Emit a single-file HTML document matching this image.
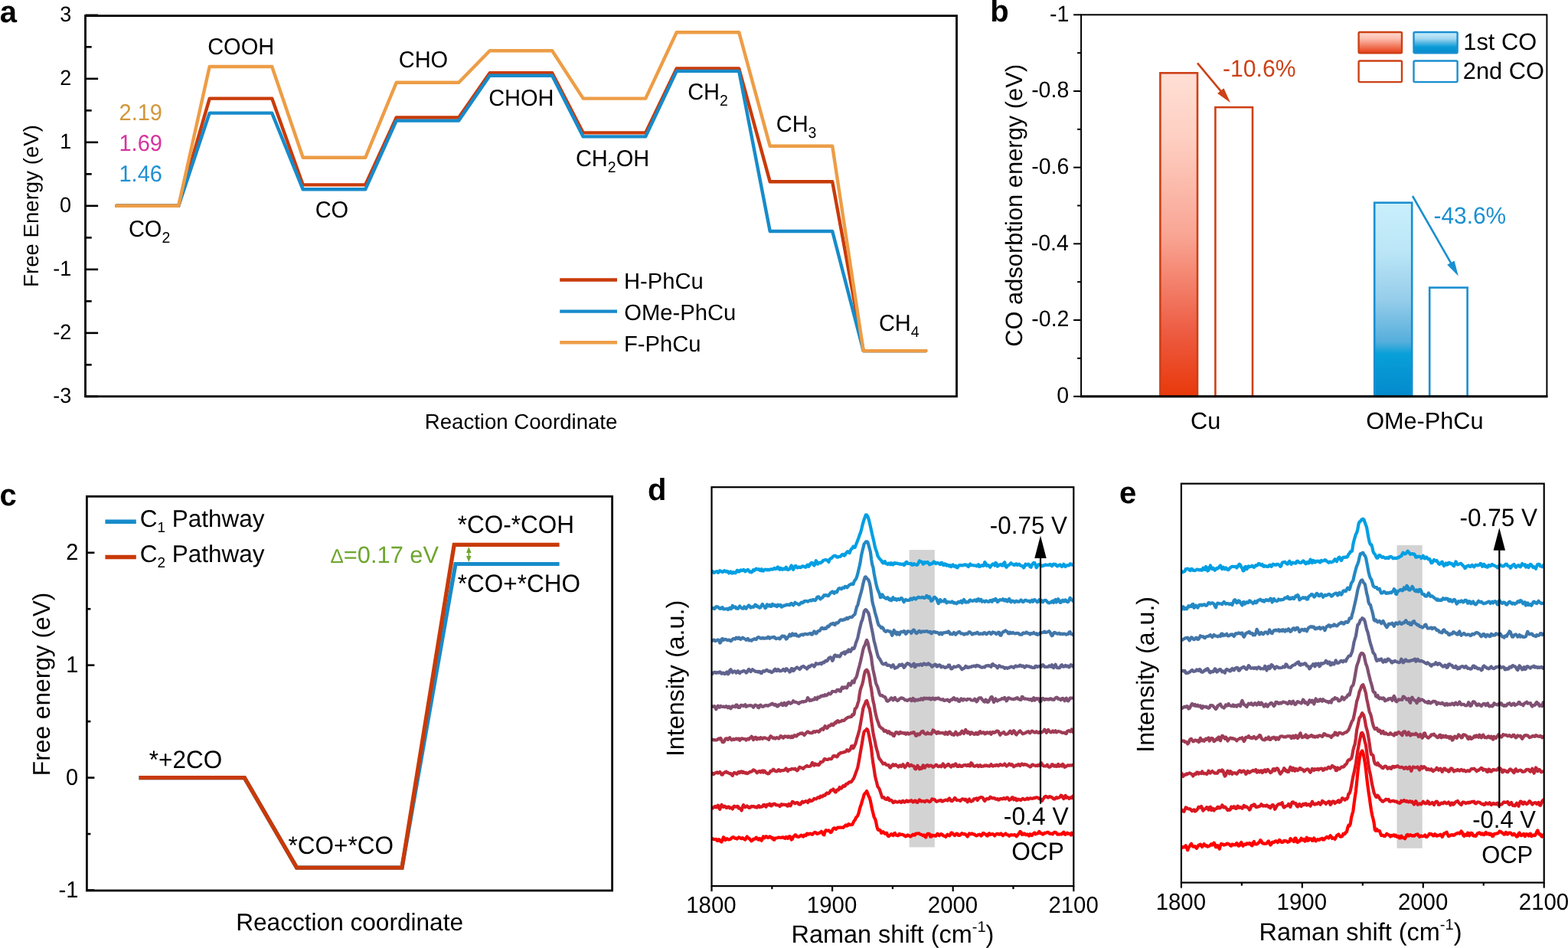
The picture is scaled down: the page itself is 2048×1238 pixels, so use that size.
<!DOCTYPE html>
<html lang="en">
<head>
<meta charset="utf-8">
<title>Figure: free energy diagrams, CO adsorption energy and Raman spectra</title>
<style>
html,body{margin:0;padding:0;background:#fff;}
body{width:2048px;height:1238px;overflow:hidden;}
svg{display:block;font-family:'Liberation Sans', sans-serif;font-kerning:none;}
svg text{white-space:pre;font-kerning:none;}
</style>
</head>
<body>
<svg width="2048" height="1238" viewBox="0 0 2048 1238" font-family="'Liberation Sans', sans-serif" text-rendering="geometricPrecision" role="img" aria-label="Five-panel scientific figure: free energy diagrams, CO adsorption energies and in-situ Raman spectra">
<rect width="2048" height="1238" fill="#fff"/>
<g id="panel-a">
<line x1="111.5" y1="517.87" x2="128.1" y2="517.87" stroke="#000" stroke-width="2.6"/>
<line x1="111.5" y1="476.37" x2="119.7" y2="476.37" stroke="#000" stroke-width="2.6"/>
<line x1="111.5" y1="434.86" x2="128.1" y2="434.86" stroke="#000" stroke-width="2.6"/>
<line x1="111.5" y1="393.36" x2="119.7" y2="393.36" stroke="#000" stroke-width="2.6"/>
<line x1="111.5" y1="351.85" x2="128.1" y2="351.85" stroke="#000" stroke-width="2.6"/>
<line x1="111.5" y1="310.34" x2="119.7" y2="310.34" stroke="#000" stroke-width="2.6"/>
<line x1="111.5" y1="268.84" x2="128.1" y2="268.84" stroke="#000" stroke-width="2.6"/>
<line x1="111.5" y1="227.33" x2="119.7" y2="227.33" stroke="#000" stroke-width="2.6"/>
<line x1="111.5" y1="185.83" x2="128.1" y2="185.83" stroke="#000" stroke-width="2.6"/>
<line x1="111.5" y1="144.32" x2="119.7" y2="144.32" stroke="#000" stroke-width="2.6"/>
<line x1="111.5" y1="102.82" x2="128.1" y2="102.82" stroke="#000" stroke-width="2.6"/>
<line x1="111.5" y1="61.31" x2="119.7" y2="61.31" stroke="#000" stroke-width="2.6"/>
<line x1="111.5" y1="19.81" x2="128.1" y2="19.81" stroke="#000" stroke-width="2.6"/>
<text transform="translate(69.18 525.87) scale(1 1.035)" font-size="27">-3</text>
<text transform="translate(69.35 442.86) scale(1 1.035)" font-size="27">-2</text>
<text transform="translate(69.31 359.85) scale(1 1.035)" font-size="27">-1</text>
<text transform="translate(78.04 276.84) scale(1 1.035)" font-size="27">0</text>
<text transform="translate(78.3 193.83) scale(1 1.035)" font-size="27">1</text>
<text transform="translate(78.34 110.82) scale(1 1.035)" font-size="27">2</text>
<text transform="translate(78.17 27.81) scale(1 1.035)" font-size="27">3</text>
<polyline points="152.2,268.8 233.2,268.8 273.7,128.6 355.2,128.6 395.7,241.4 477.2,241.4 517.7,153.5 599.2,153.5 639.7,95.3 721.2,95.3 761.7,173.4 843.2,173.4 883.7,89.5 965.2,89.5 1005.7,237.3 1087.2,237.3 1127.7,458.1 1209.2,458.1" fill="none" stroke="#c83b0a" stroke-width="4.4" stroke-linejoin="round" stroke-linecap="round"/>
<polyline points="152.2,268.8 233.2,268.8 273.7,147.6 355.2,147.6 395.7,247.3 477.2,247.3 517.7,157.6 599.2,157.6 639.7,98.7 721.2,98.7 761.7,178.4 843.2,178.4 883.7,92.9 965.2,92.9 1005.7,302.0 1087.2,302.0 1127.7,458.1 1209.2,458.1" fill="none" stroke="#178bca" stroke-width="4.4" stroke-linejoin="round" stroke-linecap="round"/>
<polyline points="152.2,268.8 233.2,268.8 273.7,87.0 355.2,87.0 395.7,205.8 477.2,205.8 517.7,107.8 599.2,107.8 639.7,66.3 721.2,66.3 761.7,128.6 843.2,128.6 883.7,42.2 965.2,42.2 1005.7,190.8 1087.2,190.8 1127.7,458.1 1209.2,458.1" fill="none" stroke="#ed9d46" stroke-width="4.4" stroke-linejoin="round" stroke-linecap="round"/>
<rect x="111.5" y="20.6" width="1138" height="497.1" fill="none" stroke="#000" stroke-width="2.8"/>
<text transform="translate(271.13 71.3) scale(1 1.035)" font-size="29">COOH</text>
<text transform="translate(520.73 87.9) scale(1 1.035)" font-size="29">CHO</text>
<text transform="translate(638.13 138.4) scale(1 1.035)" font-size="29">CHOH</text>
<text transform="translate(898.13 130) scale(1 1.035)" font-size="29"><tspan dy="-0" font-size="29">CH</tspan><tspan dy="7.57" font-size="19.43">2</tspan></text>
<text transform="translate(1013.73 171.9) scale(1 1.035)" font-size="29"><tspan dy="-0" font-size="29">CH</tspan><tspan dy="7.57" font-size="19.43">3</tspan></text>
<text transform="translate(1147.93 431.7) scale(1 1.035)" font-size="29"><tspan dy="-0" font-size="29">CH</tspan><tspan dy="7.57" font-size="19.43">4</tspan></text>
<text transform="translate(751.93 216.8) scale(1 1.035)" font-size="29"><tspan dy="-0" font-size="29">CH</tspan><tspan dy="7.57" font-size="19.43">2</tspan><tspan dy="-7.57" font-size="29">OH</tspan></text>
<text transform="translate(411.63 284) scale(1 1.035)" font-size="29">CO</text>
<text transform="translate(167.93 309) scale(1 1.035)" font-size="29"><tspan dy="-0" font-size="29">CO</tspan><tspan dy="7.57" font-size="19.43">2</tspan></text>
<text transform="translate(155.54 156.5) scale(1 1.035)" font-size="29" fill="#d2973c">2.19</text>
<text transform="translate(155.49 196.6) scale(1 1.035)" font-size="29" fill="#d6339e">1.69</text>
<text transform="translate(155.49 237) scale(1 1.035)" font-size="29" fill="#1e90d2">1.46</text>
<line x1="731.2" y1="365.5" x2="806" y2="365.5" stroke="#c83b0a" stroke-width="4.4"/>
<text transform="translate(815 376.6)" font-size="29.2">H-PhCu</text>
<line x1="731.2" y1="406.6" x2="806" y2="406.6" stroke="#178bca" stroke-width="4.4"/>
<text transform="translate(815.22 418.1)" font-size="29.2">OMe-PhCu</text>
<line x1="731.2" y1="447.2" x2="806" y2="447.2" stroke="#ed9d46" stroke-width="4.4"/>
<text transform="translate(815 458.7)" font-size="29.2">F-PhCu</text>
<text transform="translate(554.77 559.9)" font-size="27.6">Reaction Coordinate</text>
<text transform="translate(50 374.9) rotate(-90)" font-size="27.61">Free Energy (eV)</text>
<text transform="translate(-0.37 29)" font-size="40" font-weight="bold">a</text>
</g>
<g id="panel-b">
<defs>
<linearGradient id="gr" x1="0" y1="0" x2="0" y2="1"><stop offset="0" stop-color="#ffdfd5"/><stop offset="0.2" stop-color="#fecfc2"/><stop offset="0.5" stop-color="#f9a594"/><stop offset="0.8" stop-color="#ed5c42"/><stop offset="1" stop-color="#e8380a"/></linearGradient>
<linearGradient id="gb" x1="0" y1="0" x2="0" y2="1"><stop offset="0" stop-color="#c9effc"/><stop offset="0.25" stop-color="#bbe6f7"/><stop offset="0.5" stop-color="#96cdea"/><stop offset="0.72" stop-color="#55aedc"/><stop offset="0.78" stop-color="#08a0d8"/><stop offset="1" stop-color="#0489cc"/></linearGradient>
<linearGradient id="grl" x1="0" y1="0" x2="0" y2="1"><stop offset="0" stop-color="#ffdcd0"/><stop offset="0.3" stop-color="#fdbfb0"/><stop offset="1" stop-color="#e63c14"/></linearGradient>
<linearGradient id="gbl" x1="0" y1="0" x2="0" y2="1"><stop offset="0" stop-color="#c9effc"/><stop offset="0.3" stop-color="#a5d8f0"/><stop offset="0.7" stop-color="#0c9bd6"/><stop offset="1" stop-color="#0489cc"/></linearGradient>
</defs>
<rect x="1515.4" y="95.3" width="48.6" height="422.4" fill="url(#gr)" stroke="#cc4117" stroke-width="2.6"/>
<rect x="1587.4" y="140.1" width="48.6" height="377.6" fill="#fff" stroke="#cc4117" stroke-width="2.6"/>
<rect x="1795.2" y="264.7" width="49.0" height="253.0" fill="url(#gb)" stroke="#1a8fd0" stroke-width="2.6"/>
<rect x="1867.2" y="375.6" width="49.4" height="142.1" fill="#fff" stroke="#1a8fd0" stroke-width="2.6"/>
<rect x="1412.1" y="19.3" width="608.3" height="498.4" fill="none" stroke="#000" stroke-width="2"/>
<line x1="1411.1" y1="517.7" x2="2021.4" y2="517.7" stroke="#000" stroke-width="3"/>
<line x1="1402.1" y1="517.7" x2="1412.1" y2="517.7" stroke="#000" stroke-width="2"/>
<line x1="1407.1" y1="467.86" x2="1412.1" y2="467.86" stroke="#000" stroke-width="2"/>
<line x1="1402.1" y1="418.02" x2="1412.1" y2="418.02" stroke="#000" stroke-width="2"/>
<line x1="1407.1" y1="368.18" x2="1412.1" y2="368.18" stroke="#000" stroke-width="2"/>
<line x1="1402.1" y1="318.34" x2="1412.1" y2="318.34" stroke="#000" stroke-width="2"/>
<line x1="1407.1" y1="268.5" x2="1412.1" y2="268.5" stroke="#000" stroke-width="2"/>
<line x1="1402.1" y1="218.66" x2="1412.1" y2="218.66" stroke="#000" stroke-width="2"/>
<line x1="1407.1" y1="168.82" x2="1412.1" y2="168.82" stroke="#000" stroke-width="2"/>
<line x1="1402.1" y1="118.98" x2="1412.1" y2="118.98" stroke="#000" stroke-width="2"/>
<line x1="1407.1" y1="69.14" x2="1412.1" y2="69.14" stroke="#000" stroke-width="2"/>
<line x1="1402.1" y1="19.3" x2="1412.1" y2="19.3" stroke="#000" stroke-width="2"/>
<text transform="translate(1380.26 525.9) scale(1 1.035)" font-size="28.5">0</text>
<text transform="translate(1347.32 426.22) scale(1 1.035)" font-size="28.5">-0.2</text>
<text transform="translate(1346.73 326.54) scale(1 1.035)" font-size="28.5">-0.4</text>
<text transform="translate(1347.14 226.86) scale(1 1.035)" font-size="28.5">-0.6</text>
<text transform="translate(1347.13 127.18) scale(1 1.035)" font-size="28.5">-0.8</text>
<text transform="translate(1371.05 27.5) scale(1 1.035)" font-size="28.5">-1</text>
<line x1="1564" y1="82.3" x2="1595.49" y2="120.16" stroke="#cc4117" stroke-width="2.6"/>
<polygon points="1607.0,134.0 1590.1,122.1 1598.4,115.2" fill="#cc4117"/>
<line x1="1845" y1="256" x2="1895.86" y2="344.88" stroke="#1a8fd0" stroke-width="2.6"/>
<polygon points="1904.8,360.5 1890.2,345.8 1899.6,340.5" fill="#1a8fd0"/>
<text transform="translate(1597 100) scale(1 1.035)" font-size="30.15" fill="#cc4117">-10.6%</text>
<text transform="translate(1872.52 292) scale(1 1.035)" font-size="29.89" fill="#1a8fd0">-43.6%</text>
<rect x="1774.6" y="42.0" width="56.4" height="27.3" rx="1.5" fill="url(#grl)" stroke="#cc4117" stroke-width="2.4"/>
<rect x="1846.5" y="42.0" width="57.1" height="27.3" rx="1.5" fill="url(#gbl)" stroke="#1a8fd0" stroke-width="2.4"/>
<rect x="1774.6" y="79.5" width="56.4" height="27.6" rx="1.5" fill="#fff" stroke="#cc4117" stroke-width="2.4"/>
<rect x="1846.5" y="79.5" width="57.1" height="27.6" rx="1.5" fill="#fff" stroke="#1a8fd0" stroke-width="2.4"/>
<text transform="translate(1911.25 65.4)" font-size="30.8">1st CO</text>
<text transform="translate(1910.85 102.6)" font-size="30.8">2nd CO</text>
<text transform="translate(1554.99 560.2)" font-size="30.66">Cu</text>
<text transform="translate(1784.19 560.2)" font-size="30.65">OMe-PhCu</text>
<text transform="translate(1334.6 452.8) rotate(-90)" font-size="30.89">CO adsorbtion energy (eV)</text>
<text transform="translate(1293.16 28.3)" font-size="40" font-weight="bold">b</text>
</g>
<g id="panel-c">
<line x1="113.4" y1="1162.51" x2="123.4" y2="1162.51" stroke="#000" stroke-width="2.6"/>
<line x1="113.4" y1="1089.06" x2="118.4" y2="1089.06" stroke="#000" stroke-width="2.6"/>
<line x1="113.4" y1="1015.6" x2="123.4" y2="1015.6" stroke="#000" stroke-width="2.6"/>
<line x1="113.4" y1="942.14" x2="118.4" y2="942.14" stroke="#000" stroke-width="2.6"/>
<line x1="113.4" y1="868.69" x2="123.4" y2="868.69" stroke="#000" stroke-width="2.6"/>
<line x1="113.4" y1="795.24" x2="118.4" y2="795.24" stroke="#000" stroke-width="2.6"/>
<line x1="113.4" y1="721.78" x2="123.4" y2="721.78" stroke="#000" stroke-width="2.6"/>
<text transform="translate(76.53 1171.51) scale(1 1.035)" font-size="29">-1</text>
<text transform="translate(85.9 1024.6) scale(1 1.035)" font-size="29">0</text>
<text transform="translate(86.19 877.69) scale(1 1.035)" font-size="29">1</text>
<text transform="translate(86.23 730.78) scale(1 1.035)" font-size="29">2</text>
<polyline points="181.5,1015.6 319.3,1015.6 387.6,1133.1 525.0,1133.1 595.0,736.5 730.6,736.5" fill="none" stroke="#178bca" stroke-width="5.2" stroke-linejoin="miter" stroke-linecap="butt"/>
<polyline points="181.5,1015.6 319.3,1015.6 387.6,1133.1 525.0,1133.1 593.2,711.3 730.6,711.3" fill="none" stroke="#c83a08" stroke-width="5.3" stroke-linejoin="miter" stroke-linecap="butt"/>
<rect x="113.4" y="648.3" width="686.2" height="514.7" fill="none" stroke="#000" stroke-width="2.8"/>
<line x1="137.4" y1="681.3" x2="177.8" y2="681.3" stroke="#178bca" stroke-width="5.4"/>
<line x1="137.4" y1="727.5" x2="177.8" y2="727.5" stroke="#c83a08" stroke-width="5.4"/>
<text transform="translate(182.7 688.1)" font-size="31.5"><tspan dy="-0" font-size="31.5">C</tspan><tspan dy="7.09" font-size="18.9">1</tspan><tspan dy="-7.09" font-size="31.5"> Pathway</tspan></text>
<text transform="translate(182.7 734.2)" font-size="31.5"><tspan dy="-0" font-size="31.5">C</tspan><tspan dy="7.09" font-size="18.9">2</tspan><tspan dy="-7.09" font-size="31.5"> Pathway</tspan></text>
<text transform="translate(597.79 696.1) scale(1 1.035)" font-size="31.5">*CO-*COH</text>
<text transform="translate(597.79 773.2) scale(1 1.035)" font-size="31.5">*CO+*CHO</text>
<text transform="translate(194.79 1003.2) scale(1 1.035)" font-size="31.5">*+2CO</text>
<text transform="translate(376.49 1114.6) scale(1 1.035)" font-size="31.5">*CO+*CO</text>
<text transform="translate(431.58 735.2)" font-size="30.79" fill="#6ea62e"><tspan dy="0" font-size="25.86">Δ</tspan><tspan dy="-0" font-size="30.79">=0.17 eV</tspan></text>
<line x1="612.3" y1="717.9" x2="612.3" y2="730.07" stroke="#6ea62e" stroke-width="1.6"/>
<polygon points="612.3,713.9 609.0,721.9 615.5999999999999,721.9" fill="#6ea62e"/>
<polygon points="612.3,734.1 609.0,726.1 615.5999999999999,726.1" fill="#6ea62e"/>
<text transform="translate(308.21 1214.7)" font-size="31.6">Reacction coordinate</text>
<text transform="translate(64.8 1013.13) rotate(-90)" font-size="31.69">Free energy (eV)</text>
<text transform="translate(-0.56 659.5)" font-size="40" font-weight="bold">c</text>
</g>
<g id="panel-d">
<rect x="1187.6" y="718.1" width="33.2" height="388.3" fill="#d3d3d3"/>
<clipPath id="clip-panel-d"><rect x="929.5" y="636.2" width="472.8" height="520.9"/></clipPath>
<g clip-path="url(#clip-panel-d)">
<polyline points="929.5,744.7 930.7,746.4 931.9,747.8 933.1,747.8 934.2,746.9 935.4,746.4 936.6,746.2 937.8,747.9 939.0,747.0 940.2,745.3 941.3,746.1 942.5,746.1 943.7,747.1 944.9,746.4 946.1,745.2 947.3,745.8 948.5,746.7 949.6,745.8 950.8,746.4 952.0,748.5 953.2,747.2 954.4,746.4 955.6,748.5 956.8,748.6 957.9,747.2 959.1,747.5 960.3,748.4 961.5,747.2 962.7,744.9 963.9,745.1 965.0,746.6 966.2,746.0 967.4,744.5 968.6,745.1 969.8,745.2 971.0,743.9 972.2,744.6 973.3,746.3 974.5,745.7 975.7,744.6 976.9,743.9 978.1,745.3 979.3,746.9 980.5,746.4 981.6,747.4 982.8,746.4 984.0,744.2 985.2,745.0 986.4,744.1 987.6,742.6 988.7,743.3 989.9,743.6 991.1,743.2 992.3,744.8 993.5,745.1 994.7,743.2 995.9,745.4 997.0,745.6 998.2,744.1 999.4,743.6 1000.6,743.8 1001.8,744.5 1003.0,743.7 1004.2,744.4 1005.3,744.1 1006.5,743.3 1007.7,743.4 1008.9,743.7 1010.1,743.1 1011.3,741.9 1012.4,743.1 1013.6,743.0 1014.8,741.5 1016.0,740.4 1017.2,743.0 1018.4,743.8 1019.6,741.7 1020.7,742.6 1021.9,743.9 1023.1,742.5 1024.3,742.7 1025.5,743.3 1026.7,740.7 1027.9,742.7 1029.0,744.1 1030.2,743.7 1031.4,743.1 1032.6,740.3 1033.8,738.5 1035.0,741.5 1036.1,743.8 1037.3,741.3 1038.5,739.1 1039.7,739.2 1040.9,741.3 1042.1,741.3 1043.3,740.4 1044.4,740.7 1045.6,741.2 1046.8,740.4 1048.0,739.3 1049.2,739.5 1050.4,739.8 1051.6,740.7 1052.7,740.7 1053.9,738.1 1055.1,737.6 1056.3,739.8 1057.5,738.1 1058.7,736.0 1059.8,734.9 1061.0,735.1 1062.2,737.2 1063.4,738.4 1064.6,736.3 1065.8,732.2 1067.0,733.9 1068.1,736.6 1069.3,734.9 1070.5,734.7 1071.7,735.2 1072.9,734.3 1074.1,733.5 1075.3,731.7 1076.4,731.5 1077.6,731.2 1078.8,731.2 1080.0,731.4 1081.2,732.6 1082.4,733.9 1083.5,730.7 1084.7,729.4 1085.9,729.2 1087.1,727.7 1088.3,726.6 1089.5,725.9 1090.7,725.7 1091.8,726.2 1093.0,727.4 1094.2,727.6 1095.4,727.0 1096.6,726.9 1097.8,726.6 1098.9,725.2 1100.1,724.0 1101.3,723.9 1102.5,725.6 1103.7,724.9 1104.9,722.5 1106.1,721.0 1107.2,720.2 1108.4,721.4 1109.6,722.1 1110.8,719.0 1112.0,716.8 1113.2,716.1 1114.4,713.7 1115.5,714.9 1116.7,714.8 1117.9,711.5 1119.1,708.7 1120.3,705.6 1121.5,702.4 1122.6,698.9 1123.8,696.2 1125.0,692.1 1126.2,686.9 1127.4,682.4 1128.6,678.5 1129.8,675.2 1130.9,672.3 1132.1,672.5 1133.3,674.4 1134.5,677.5 1135.7,682.3 1136.9,687.5 1138.1,693.0 1139.2,698.1 1140.4,703.1 1141.6,708.1 1142.8,714.1 1144.0,718.0 1145.2,721.1 1146.3,725.7 1147.5,727.7 1148.7,729.5 1149.9,730.7 1151.1,732.0 1152.3,734.3 1153.5,735.3 1154.6,733.6 1155.8,733.2 1157.0,736.0 1158.2,736.3 1159.4,737.0 1160.6,735.5 1161.8,735.7 1162.9,737.1 1164.1,735.2 1165.3,737.2 1166.5,737.5 1167.7,735.3 1168.9,735.2 1170.0,736.0 1171.2,735.5 1172.4,735.7 1173.6,736.3 1174.8,736.6 1176.0,736.3 1177.2,737.0 1178.3,736.8 1179.5,736.4 1180.7,738.1 1181.9,737.2 1183.1,734.5 1184.3,733.9 1185.5,735.9 1186.6,736.0 1187.8,735.9 1189.0,736.5 1190.2,735.9 1191.4,737.8 1192.6,737.6 1193.7,736.2 1194.9,737.0 1196.1,737.3 1197.3,737.9 1198.5,737.3 1199.7,735.0 1200.9,732.4 1202.0,733.1 1203.2,733.6 1204.4,733.8 1205.6,736.7 1206.8,736.3 1208.0,734.1 1209.2,734.7 1210.3,734.9 1211.5,734.0 1212.7,735.2 1213.9,737.3 1215.1,736.9 1216.3,735.8 1217.4,736.1 1218.6,735.2 1219.8,733.4 1221.0,734.9 1222.2,736.1 1223.4,735.0 1224.6,735.2 1225.7,735.3 1226.9,736.6 1228.1,737.0 1229.3,734.9 1230.5,735.0 1231.7,737.7 1232.9,738.1 1234.0,736.4 1235.2,736.7 1236.4,738.6 1237.6,737.6 1238.8,738.3 1240.0,739.4 1241.1,738.3 1242.3,740.0 1243.5,738.8 1244.7,737.4 1245.9,739.7 1247.1,739.4 1248.3,738.7 1249.4,741.1 1250.6,741.3 1251.8,739.3 1253.0,738.0 1254.2,738.0 1255.4,738.5 1256.5,738.2 1257.7,738.4 1258.9,737.7 1260.1,737.3 1261.3,738.1 1262.5,737.7 1263.7,738.9 1264.8,740.1 1266.0,737.5 1267.2,736.5 1268.4,738.2 1269.6,738.1 1270.8,738.3 1272.0,738.3 1273.1,738.5 1274.3,738.5 1275.5,739.3 1276.7,738.3 1277.9,737.2 1279.1,740.0 1280.2,739.7 1281.4,738.5 1282.6,738.2 1283.8,738.9 1285.0,738.7 1286.2,734.1 1287.4,735.7 1288.5,738.8 1289.7,737.9 1290.9,738.1 1292.1,739.5 1293.3,740.8 1294.5,738.6 1295.7,737.6 1296.8,736.4 1298.0,737.1 1299.2,738.5 1300.4,735.0 1301.6,735.9 1302.8,739.6 1303.9,738.9 1305.1,738.1 1306.3,737.2 1307.5,737.1 1308.7,738.6 1309.9,738.5 1311.1,735.3 1312.2,734.3 1313.4,739.5 1314.6,740.8 1315.8,739.0 1317.0,738.3 1318.2,737.6 1319.4,736.3 1320.5,735.3 1321.7,736.3 1322.9,737.0 1324.1,737.9 1325.3,737.8 1326.5,736.5 1327.6,736.3 1328.8,737.9 1330.0,737.2 1331.2,736.7 1332.4,738.0 1333.6,738.9 1334.8,739.4 1335.9,739.2 1337.1,741.4 1338.3,739.8 1339.5,736.6 1340.7,737.8 1341.9,737.3 1343.1,736.7 1344.2,737.3 1345.4,740.1 1346.6,740.7 1347.8,737.8 1349.0,736.1 1350.2,734.8 1351.3,735.0 1352.5,737.9 1353.7,741.3 1354.9,739.7 1356.1,737.6 1357.3,737.2 1358.5,737.4 1359.6,738.1 1360.8,739.4 1362.0,739.2 1363.2,738.2 1364.4,738.3 1365.6,737.4 1366.8,737.8 1367.9,738.0 1369.1,737.9 1370.3,737.5 1371.5,737.0 1372.7,738.2 1373.9,739.3 1375.0,737.1 1376.2,736.6 1377.4,737.4 1378.6,736.9 1379.8,738.4 1381.0,739.5 1382.2,738.8 1383.3,737.9 1384.5,737.4 1385.7,738.9 1386.9,740.0 1388.1,738.9 1389.3,736.8 1390.5,739.0 1391.6,740.1 1392.8,738.4 1394.0,738.4 1395.2,738.3 1396.4,738.4 1397.6,736.4 1398.7,736.4 1399.9,737.5 1401.1,737.5 1402.3,738.6" fill="none" stroke="#009fe3" stroke-width="4.2" stroke-linejoin="round" stroke-linecap="butt"/>
<polyline points="929.5,795.0 930.7,794.2 931.9,794.0 933.1,795.1 934.2,793.7 935.4,792.2 936.6,792.4 937.8,792.7 939.0,793.9 940.2,794.8 941.3,794.9 942.5,793.6 943.7,793.2 944.9,795.4 946.1,795.5 947.3,795.3 948.5,795.1 949.6,794.8 950.8,796.1 952.0,794.8 953.2,793.7 954.4,795.3 955.6,794.5 956.8,790.9 957.9,792.9 959.1,793.2 960.3,792.4 961.5,794.5 962.7,793.9 963.9,794.8 965.0,793.3 966.2,791.5 967.4,793.3 968.6,794.0 969.8,794.7 971.0,794.7 972.2,792.3 973.3,793.6 974.5,794.8 975.7,793.0 976.9,791.6 978.1,790.4 979.3,791.7 980.5,793.6 981.6,792.7 982.8,792.3 984.0,793.0 985.2,791.6 986.4,789.7 987.6,790.4 988.7,792.1 989.9,791.7 991.1,793.3 992.3,793.7 993.5,792.9 994.7,790.6 995.9,788.9 997.0,791.0 998.2,791.7 999.4,794.1 1000.6,793.2 1001.8,789.3 1003.0,790.6 1004.2,791.4 1005.3,790.0 1006.5,792.0 1007.7,791.8 1008.9,789.0 1010.1,789.6 1011.3,790.8 1012.4,790.2 1013.6,791.5 1014.8,792.1 1016.0,789.6 1017.2,790.8 1018.4,790.8 1019.6,789.9 1020.7,792.7 1021.9,792.3 1023.1,791.2 1024.3,790.7 1025.5,790.8 1026.7,790.0 1027.9,789.5 1029.0,790.0 1030.2,789.7 1031.4,790.2 1032.6,788.5 1033.8,787.8 1035.0,789.2 1036.1,790.4 1037.3,788.8 1038.5,786.8 1039.7,788.0 1040.9,788.3 1042.1,788.7 1043.3,789.7 1044.4,789.3 1045.6,787.8 1046.8,786.6 1048.0,787.4 1049.2,786.7 1050.4,785.0 1051.6,785.3 1052.7,784.8 1053.9,785.0 1055.1,785.7 1056.3,784.7 1057.5,784.4 1058.7,783.7 1059.8,784.5 1061.0,783.6 1062.2,782.8 1063.4,783.9 1064.6,784.1 1065.8,783.0 1067.0,780.2 1068.1,779.3 1069.3,779.3 1070.5,781.3 1071.7,782.4 1072.9,781.0 1074.1,780.6 1075.3,778.7 1076.4,777.2 1077.6,777.8 1078.8,777.0 1080.0,777.4 1081.2,778.2 1082.4,777.7 1083.5,775.9 1084.7,774.3 1085.9,773.7 1087.1,772.5 1088.3,773.8 1089.5,774.8 1090.7,772.9 1091.8,773.2 1093.0,773.3 1094.2,770.6 1095.4,768.6 1096.6,768.1 1097.8,768.6 1098.9,769.3 1100.1,767.9 1101.3,767.6 1102.5,767.8 1103.7,765.8 1104.9,766.0 1106.1,767.3 1107.2,766.4 1108.4,764.8 1109.6,763.7 1110.8,763.4 1112.0,762.4 1113.2,763.0 1114.4,763.0 1115.5,759.6 1116.7,757.6 1117.9,756.3 1119.1,753.4 1120.3,749.2 1121.5,743.9 1122.6,739.2 1123.8,733.5 1125.0,725.5 1126.2,720.3 1127.4,715.4 1128.6,710.4 1129.8,709.1 1130.9,707.5 1132.1,707.2 1133.3,708.0 1134.5,711.7 1135.7,716.2 1136.9,720.7 1138.1,730.5 1139.2,737.3 1140.4,740.7 1141.6,748.6 1142.8,754.9 1144.0,761.0 1145.2,766.2 1146.3,769.8 1147.5,772.7 1148.7,775.3 1149.9,780.2 1151.1,779.7 1152.3,776.4 1153.5,778.3 1154.6,780.3 1155.8,780.3 1157.0,781.8 1158.2,781.7 1159.4,780.2 1160.6,782.2 1161.8,783.4 1162.9,782.2 1164.1,784.2 1165.3,783.1 1166.5,780.1 1167.7,782.6 1168.9,782.9 1170.0,782.0 1171.2,783.8 1172.4,782.5 1173.6,782.1 1174.8,783.2 1176.0,782.0 1177.2,781.0 1178.3,781.6 1179.5,784.0 1180.7,786.2 1181.9,783.7 1183.1,783.0 1184.3,783.8 1185.5,783.8 1186.6,783.9 1187.8,783.9 1189.0,782.0 1190.2,781.6 1191.4,783.0 1192.6,782.0 1193.7,780.6 1194.9,781.5 1196.1,782.5 1197.3,781.2 1198.5,780.4 1199.7,779.7 1200.9,780.4 1202.0,780.5 1203.2,780.4 1204.4,780.1 1205.6,779.8 1206.8,780.9 1208.0,780.8 1209.2,780.0 1210.3,777.9 1211.5,778.9 1212.7,780.8 1213.9,779.2 1215.1,781.7 1216.3,784.9 1217.4,784.3 1218.6,783.1 1219.8,780.0 1221.0,779.8 1222.2,781.3 1223.4,782.1 1224.6,785.8 1225.7,788.1 1226.9,785.1 1228.1,783.1 1229.3,785.5 1230.5,784.9 1231.7,785.3 1232.9,785.5 1234.0,782.9 1235.2,784.9 1236.4,787.4 1237.6,786.1 1238.8,786.2 1240.0,786.3 1241.1,786.5 1242.3,786.6 1243.5,785.4 1244.7,786.6 1245.9,787.6 1247.1,787.0 1248.3,787.9 1249.4,788.3 1250.6,786.9 1251.8,786.0 1253.0,786.7 1254.2,785.7 1255.4,784.8 1256.5,787.3 1257.7,785.7 1258.9,783.0 1260.1,784.4 1261.3,786.7 1262.5,786.4 1263.7,786.1 1264.8,786.4 1266.0,784.2 1267.2,783.5 1268.4,784.7 1269.6,784.7 1270.8,784.8 1272.0,784.3 1273.1,783.4 1274.3,784.5 1275.5,785.1 1276.7,782.5 1277.9,782.2 1279.1,784.6 1280.2,783.0 1281.4,782.8 1282.6,785.7 1283.8,785.1 1285.0,784.9 1286.2,786.0 1287.4,784.8 1288.5,784.5 1289.7,785.5 1290.9,785.9 1292.1,785.7 1293.3,784.1 1294.5,784.2 1295.7,785.8 1296.8,783.3 1298.0,783.2 1299.2,783.8 1300.4,782.0 1301.6,783.5 1302.8,786.1 1303.9,785.5 1305.1,783.6 1306.3,783.1 1307.5,783.6 1308.7,783.4 1309.9,782.2 1311.1,784.3 1312.2,784.3 1313.4,783.1 1314.6,785.0 1315.8,785.4 1317.0,783.1 1318.2,781.9 1319.4,785.3 1320.5,786.2 1321.7,784.6 1322.9,784.9 1324.1,785.2 1325.3,786.4 1326.5,785.1 1327.6,784.7 1328.8,785.8 1330.0,785.5 1331.2,785.8 1332.4,784.6 1333.6,783.5 1334.8,784.8 1335.9,786.1 1337.1,785.9 1338.3,784.1 1339.5,783.6 1340.7,784.2 1341.9,784.7 1343.1,785.1 1344.2,784.6 1345.4,786.1 1346.6,784.8 1347.8,783.8 1349.0,785.8 1350.2,783.8 1351.3,783.1 1352.5,784.3 1353.7,785.1 1354.9,786.5 1356.1,785.8 1357.3,783.3 1358.5,784.3 1359.6,784.1 1360.8,784.3 1362.0,786.3 1363.2,784.7 1364.4,784.1 1365.6,783.9 1366.8,784.6 1367.9,786.2 1369.1,787.2 1370.3,787.4 1371.5,786.6 1372.7,786.8 1373.9,785.6 1375.0,784.8 1376.2,787.0 1377.4,784.1 1378.6,783.0 1379.8,786.5 1381.0,784.5 1382.2,782.3 1383.3,784.5 1384.5,786.9 1385.7,786.8 1386.9,784.4 1388.1,783.7 1389.3,785.5 1390.5,785.3 1391.6,783.4 1392.8,784.7 1394.0,786.1 1395.2,786.1 1396.4,783.8 1397.6,780.8 1398.7,781.9 1399.9,783.7 1401.1,784.0 1402.3,785.8" fill="none" stroke="#208bc7" stroke-width="4.2" stroke-linejoin="round" stroke-linecap="butt"/>
<polyline points="929.5,837.7 930.7,836.5 931.9,835.6 933.1,835.8 934.2,837.1 935.4,836.7 936.6,836.0 937.8,835.5 939.0,836.1 940.2,839.5 941.3,839.0 942.5,834.8 943.7,833.9 944.9,835.9 946.1,835.4 947.3,834.8 948.5,835.1 949.6,835.9 950.8,836.2 952.0,835.5 953.2,836.1 954.4,837.2 955.6,836.5 956.8,834.6 957.9,834.1 959.1,834.5 960.3,834.6 961.5,832.7 962.7,832.9 963.9,834.1 965.0,832.6 966.2,833.4 967.4,834.8 968.6,833.9 969.8,832.6 971.0,833.2 972.2,834.3 973.3,834.5 974.5,835.8 975.7,834.8 976.9,833.9 978.1,836.3 979.3,836.2 980.5,836.1 981.6,836.8 982.8,835.3 984.0,835.1 985.2,834.2 986.4,834.6 987.6,835.2 988.7,833.4 989.9,832.3 991.1,832.0 992.3,833.0 993.5,833.6 994.7,833.8 995.9,832.9 997.0,833.3 998.2,833.8 999.4,833.3 1000.6,833.4 1001.8,833.5 1003.0,831.8 1004.2,832.1 1005.3,833.7 1006.5,832.8 1007.7,832.4 1008.9,832.2 1010.1,832.3 1011.3,831.8 1012.4,833.4 1013.6,834.1 1014.8,833.8 1016.0,833.5 1017.2,833.4 1018.4,834.4 1019.6,833.3 1020.7,831.2 1021.9,830.5 1023.1,831.4 1024.3,830.6 1025.5,831.6 1026.7,834.5 1027.9,833.9 1029.0,832.2 1030.2,830.7 1031.4,828.5 1032.6,830.6 1033.8,830.1 1035.0,827.5 1036.1,828.7 1037.3,829.6 1038.5,828.1 1039.7,828.2 1040.9,830.5 1042.1,830.3 1043.3,830.9 1044.4,830.4 1045.6,829.1 1046.8,829.0 1048.0,828.3 1049.2,829.3 1050.4,828.2 1051.6,827.9 1052.7,828.0 1053.9,828.3 1055.1,828.4 1056.3,827.5 1057.5,827.4 1058.7,827.0 1059.8,828.6 1061.0,828.6 1062.2,826.3 1063.4,824.5 1064.6,825.4 1065.8,827.4 1067.0,826.5 1068.1,824.4 1069.3,823.8 1070.5,823.9 1071.7,822.2 1072.9,820.2 1074.1,819.9 1075.3,821.1 1076.4,821.2 1077.6,820.1 1078.8,820.9 1080.0,819.5 1081.2,817.7 1082.4,818.4 1083.5,816.7 1084.7,815.2 1085.9,815.2 1087.1,814.3 1088.3,813.9 1089.5,815.5 1090.7,816.0 1091.8,813.5 1093.0,813.4 1094.2,813.7 1095.4,812.3 1096.6,810.6 1097.8,809.3 1098.9,809.3 1100.1,810.1 1101.3,809.7 1102.5,808.6 1103.7,809.1 1104.9,807.9 1106.1,806.9 1107.2,808.2 1108.4,807.0 1109.6,806.0 1110.8,805.9 1112.0,806.1 1113.2,805.7 1114.4,803.9 1115.5,803.1 1116.7,802.0 1117.9,796.8 1119.1,792.2 1120.3,790.4 1121.5,785.2 1122.6,781.0 1123.8,776.6 1125.0,772.6 1126.2,767.7 1127.4,762.0 1128.6,757.4 1129.8,753.6 1130.9,753.4 1132.1,755.0 1133.3,756.4 1134.5,757.6 1135.7,761.1 1136.9,767.1 1138.1,775.6 1139.2,784.8 1140.4,790.0 1141.6,794.0 1142.8,799.5 1144.0,803.7 1145.2,807.6 1146.3,812.5 1147.5,816.0 1148.7,817.2 1149.9,818.3 1151.1,820.0 1152.3,819.2 1153.5,820.3 1154.6,822.9 1155.8,824.1 1157.0,824.9 1158.2,824.0 1159.4,823.5 1160.6,824.3 1161.8,824.7 1162.9,824.7 1164.1,826.9 1165.3,829.9 1166.5,826.4 1167.7,822.9 1168.9,825.1 1170.0,827.4 1171.2,828.5 1172.4,825.8 1173.6,827.2 1174.8,828.7 1176.0,825.5 1177.2,825.1 1178.3,825.2 1179.5,825.4 1180.7,824.0 1181.9,824.7 1183.1,827.9 1184.3,826.8 1185.5,824.3 1186.6,824.5 1187.8,824.8 1189.0,825.1 1190.2,827.0 1191.4,825.2 1192.6,822.8 1193.7,822.6 1194.9,824.2 1196.1,826.4 1197.3,827.0 1198.5,826.1 1199.7,824.5 1200.9,823.9 1202.0,825.6 1203.2,825.8 1204.4,824.5 1205.6,824.6 1206.8,824.6 1208.0,824.9 1209.2,824.4 1210.3,824.2 1211.5,824.6 1212.7,825.4 1213.9,825.3 1215.1,824.9 1216.3,827.2 1217.4,826.8 1218.6,825.3 1219.8,825.1 1221.0,825.1 1222.2,826.1 1223.4,825.9 1224.6,826.0 1225.7,826.7 1226.9,828.4 1228.1,826.5 1229.3,826.4 1230.5,828.4 1231.7,826.6 1232.9,826.1 1234.0,826.3 1235.2,826.0 1236.4,825.5 1237.6,826.0 1238.8,824.6 1240.0,825.8 1241.1,828.1 1242.3,827.6 1243.5,828.3 1244.7,827.8 1245.9,826.0 1247.1,826.9 1248.3,828.8 1249.4,827.5 1250.6,826.4 1251.8,825.4 1253.0,824.9 1254.2,826.4 1255.4,827.5 1256.5,827.5 1257.7,827.3 1258.9,828.7 1260.1,828.5 1261.3,827.4 1262.5,827.6 1263.7,827.8 1264.8,826.1 1266.0,825.1 1267.2,825.7 1268.4,826.8 1269.6,828.5 1270.8,828.2 1272.0,827.0 1273.1,827.1 1274.3,827.4 1275.5,826.3 1276.7,825.8 1277.9,827.5 1279.1,828.1 1280.2,827.8 1281.4,827.3 1282.6,827.7 1283.8,828.0 1285.0,826.4 1286.2,826.2 1287.4,827.6 1288.5,828.2 1289.7,827.3 1290.9,826.3 1292.1,825.7 1293.3,826.3 1294.5,828.1 1295.7,826.8 1296.8,825.4 1298.0,826.2 1299.2,826.2 1300.4,827.5 1301.6,828.0 1302.8,826.9 1303.9,825.7 1305.1,825.9 1306.3,829.5 1307.5,829.8 1308.7,826.8 1309.9,825.4 1311.1,825.1 1312.2,824.1 1313.4,823.5 1314.6,824.5 1315.8,824.9 1317.0,827.2 1318.2,827.3 1319.4,825.6 1320.5,826.8 1321.7,826.8 1322.9,826.0 1324.1,826.9 1325.3,827.4 1326.5,827.2 1327.6,826.9 1328.8,827.0 1330.0,826.8 1331.2,828.1 1332.4,828.8 1333.6,828.6 1334.8,828.7 1335.9,826.8 1337.1,826.4 1338.3,826.9 1339.5,826.9 1340.7,825.5 1341.9,826.5 1343.1,827.1 1344.2,827.4 1345.4,828.6 1346.6,827.1 1347.8,827.5 1349.0,827.4 1350.2,826.1 1351.3,827.3 1352.5,828.0 1353.7,827.3 1354.9,828.9 1356.1,828.7 1357.3,827.7 1358.5,826.4 1359.6,826.5 1360.8,826.2 1362.0,825.9 1363.2,825.7 1364.4,824.7 1365.6,826.0 1366.8,825.8 1367.9,825.4 1369.1,824.9 1370.3,824.2 1371.5,825.7 1372.7,828.3 1373.9,830.3 1375.0,829.5 1376.2,826.6 1377.4,825.9 1378.6,826.5 1379.8,827.1 1381.0,827.7 1382.2,827.7 1383.3,826.8 1384.5,828.1 1385.7,827.8 1386.9,827.5 1388.1,828.3 1389.3,827.6 1390.5,827.7 1391.6,828.1 1392.8,828.8 1394.0,828.1 1395.2,828.0 1396.4,825.7 1397.6,825.1 1398.7,827.8 1399.9,827.9 1401.1,828.3 1402.3,829.9" fill="none" stroke="#4077aa" stroke-width="4.2" stroke-linejoin="round" stroke-linecap="butt"/>
<polyline points="929.5,879.9 930.7,879.9 931.9,878.4 933.1,877.9 934.2,877.8 935.4,878.8 936.6,878.4 937.8,878.1 939.0,878.5 940.2,877.4 941.3,878.0 942.5,879.8 943.7,878.9 944.9,878.7 946.1,880.1 947.3,880.0 948.5,878.4 949.6,877.4 950.8,880.3 952.0,879.4 953.2,875.3 954.4,874.3 955.6,876.7 956.8,878.3 957.9,877.3 959.1,876.4 960.3,876.8 961.5,878.7 962.7,878.0 963.9,876.3 965.0,878.2 966.2,879.1 967.4,877.6 968.6,877.2 969.8,876.9 971.0,876.1 972.2,876.1 973.3,876.9 974.5,878.6 975.7,877.9 976.9,875.3 978.1,873.9 979.3,875.2 980.5,877.1 981.6,875.7 982.8,874.2 984.0,875.2 985.2,875.9 986.4,876.8 987.6,876.9 988.7,876.9 989.9,877.6 991.1,876.9 992.3,877.1 993.5,879.0 994.7,879.2 995.9,876.9 997.0,876.1 998.2,876.8 999.4,876.3 1000.6,875.2 1001.8,874.8 1003.0,876.1 1004.2,876.8 1005.3,876.3 1006.5,877.1 1007.7,878.2 1008.9,877.4 1010.1,876.7 1011.3,874.6 1012.4,873.8 1013.6,876.0 1014.8,876.2 1016.0,874.1 1017.2,874.6 1018.4,876.4 1019.6,876.2 1020.7,876.1 1021.9,875.3 1023.1,874.1 1024.3,875.3 1025.5,876.2 1026.7,873.3 1027.9,873.6 1029.0,875.2 1030.2,875.5 1031.4,877.6 1032.6,876.8 1033.8,873.1 1035.0,873.3 1036.1,876.0 1037.3,875.2 1038.5,873.2 1039.7,872.4 1040.9,871.4 1042.1,872.4 1043.3,872.7 1044.4,874.0 1045.6,873.1 1046.8,871.0 1048.0,870.8 1049.2,869.8 1050.4,870.8 1051.6,871.7 1052.7,872.0 1053.9,873.5 1055.1,872.5 1056.3,870.2 1057.5,870.8 1058.7,869.9 1059.8,868.5 1061.0,868.4 1062.2,868.9 1063.4,870.6 1064.6,868.8 1065.8,866.1 1067.0,866.6 1068.1,867.2 1069.3,866.9 1070.5,866.2 1071.7,866.0 1072.9,867.3 1074.1,865.7 1075.3,864.7 1076.4,865.3 1077.6,863.7 1078.8,862.7 1080.0,863.4 1081.2,862.1 1082.4,859.4 1083.5,859.4 1084.7,858.3 1085.9,859.3 1087.1,862.9 1088.3,861.3 1089.5,856.7 1090.7,855.4 1091.8,856.6 1093.0,857.3 1094.2,856.1 1095.4,857.2 1096.6,857.6 1097.8,856.1 1098.9,853.5 1100.1,853.0 1101.3,852.6 1102.5,851.5 1103.7,854.1 1104.9,851.6 1106.1,850.5 1107.2,851.5 1108.4,848.4 1109.6,848.9 1110.8,851.0 1112.0,848.7 1113.2,846.4 1114.4,847.3 1115.5,846.8 1116.7,844.0 1117.9,839.5 1119.1,836.4 1120.3,833.1 1121.5,827.2 1122.6,822.1 1123.8,817.3 1125.0,812.2 1126.2,809.8 1127.4,804.9 1128.6,798.8 1129.8,796.7 1130.9,796.2 1132.1,797.5 1133.3,799.2 1134.5,801.2 1135.7,806.1 1136.9,812.7 1138.1,818.6 1139.2,823.9 1140.4,830.1 1141.6,837.0 1142.8,841.1 1144.0,846.2 1145.2,851.2 1146.3,855.5 1147.5,858.7 1148.7,860.0 1149.9,862.1 1151.1,864.2 1152.3,866.5 1153.5,867.3 1154.6,867.5 1155.8,866.8 1157.0,866.0 1158.2,868.4 1159.4,869.0 1160.6,868.6 1161.8,869.0 1162.9,869.2 1164.1,871.2 1165.3,869.9 1166.5,868.2 1167.7,870.4 1168.9,872.7 1170.0,872.1 1171.2,871.5 1172.4,871.4 1173.6,869.7 1174.8,868.0 1176.0,868.9 1177.2,869.0 1178.3,867.5 1179.5,869.2 1180.7,871.8 1181.9,870.6 1183.1,868.4 1184.3,866.9 1185.5,866.1 1186.6,867.4 1187.8,867.1 1189.0,868.7 1190.2,870.0 1191.4,869.2 1192.6,867.6 1193.7,866.7 1194.9,871.1 1196.1,870.2 1197.3,868.1 1198.5,868.5 1199.7,868.0 1200.9,868.5 1202.0,867.4 1203.2,867.4 1204.4,868.8 1205.6,867.7 1206.8,866.4 1208.0,867.7 1209.2,867.5 1210.3,868.0 1211.5,867.0 1212.7,866.4 1213.9,867.9 1215.1,867.9 1216.3,869.2 1217.4,870.8 1218.6,869.9 1219.8,868.6 1221.0,867.7 1222.2,867.8 1223.4,870.3 1224.6,870.3 1225.7,868.7 1226.9,868.4 1228.1,869.0 1229.3,871.3 1230.5,870.6 1231.7,870.3 1232.9,871.0 1234.0,871.8 1235.2,871.8 1236.4,871.1 1237.6,870.9 1238.8,868.6 1240.0,868.6 1241.1,871.3 1242.3,873.4 1243.5,873.1 1244.7,871.6 1245.9,870.5 1247.1,871.0 1248.3,871.0 1249.4,870.6 1250.6,870.2 1251.8,869.2 1253.0,869.8 1254.2,871.2 1255.4,872.8 1256.5,874.2 1257.7,873.1 1258.9,872.9 1260.1,872.0 1261.3,869.9 1262.5,870.4 1263.7,871.8 1264.8,871.8 1266.0,871.2 1267.2,871.2 1268.4,870.9 1269.6,870.1 1270.8,870.1 1272.0,869.6 1273.1,869.9 1274.3,870.5 1275.5,868.8 1276.7,869.0 1277.9,869.8 1279.1,869.7 1280.2,870.9 1281.4,871.4 1282.6,871.7 1283.8,871.2 1285.0,871.0 1286.2,871.4 1287.4,869.7 1288.5,869.4 1289.7,869.5 1290.9,869.1 1292.1,869.4 1293.3,870.2 1294.5,870.8 1295.7,867.8 1296.8,867.1 1298.0,868.7 1299.2,869.2 1300.4,869.4 1301.6,870.7 1302.8,872.3 1303.9,870.8 1305.1,869.2 1306.3,870.0 1307.5,870.9 1308.7,870.9 1309.9,870.9 1311.1,871.6 1312.2,872.8 1313.4,871.8 1314.6,872.0 1315.8,872.9 1317.0,871.9 1318.2,871.9 1319.4,871.1 1320.5,870.5 1321.7,870.8 1322.9,871.3 1324.1,872.0 1325.3,870.5 1326.5,869.5 1327.6,870.4 1328.8,870.4 1330.0,869.8 1331.2,870.0 1332.4,868.7 1333.6,869.2 1334.8,870.3 1335.9,869.5 1337.1,870.1 1338.3,871.6 1339.5,870.7 1340.7,869.4 1341.9,870.0 1343.1,870.2 1344.2,870.2 1345.4,871.1 1346.6,870.8 1347.8,871.7 1349.0,872.0 1350.2,871.7 1351.3,872.0 1352.5,869.9 1353.7,869.8 1354.9,870.9 1356.1,870.2 1357.3,870.0 1358.5,870.9 1359.6,871.0 1360.8,869.2 1362.0,868.2 1363.2,869.2 1364.4,870.9 1365.6,870.8 1366.8,870.9 1367.9,871.0 1369.1,870.8 1370.3,869.4 1371.5,870.0 1372.7,870.6 1373.9,868.3 1375.0,871.1 1376.2,872.1 1377.4,869.1 1378.6,867.8 1379.8,870.7 1381.0,872.2 1382.2,871.8 1383.3,872.2 1384.5,871.7 1385.7,869.0 1386.9,868.3 1388.1,870.2 1389.3,870.7 1390.5,869.8 1391.6,868.9 1392.8,870.4 1394.0,869.6 1395.2,869.8 1396.4,871.4 1397.6,870.0 1398.7,868.1 1399.9,868.8 1401.1,870.2 1402.3,868.6" fill="none" stroke="#60638e" stroke-width="4.2" stroke-linejoin="round" stroke-linecap="butt"/>
<polyline points="929.5,923.0 930.7,922.3 931.9,922.9 933.1,922.2 934.2,923.9 935.4,926.2 936.6,923.0 937.8,921.8 939.0,923.6 940.2,923.6 941.3,922.0 942.5,922.8 943.7,923.0 944.9,922.6 946.1,923.3 947.3,923.2 948.5,922.1 949.6,923.0 950.8,924.3 952.0,922.6 953.2,923.3 954.4,925.3 955.6,923.6 956.8,922.2 957.9,922.8 959.1,922.6 960.3,923.3 961.5,920.7 962.7,920.7 963.9,923.7 965.0,924.0 966.2,924.0 967.4,921.2 968.6,920.8 969.8,921.6 971.0,922.0 972.2,920.9 973.3,920.2 974.5,922.9 975.7,922.3 976.9,921.5 978.1,921.6 979.3,921.1 980.5,921.4 981.6,921.3 982.8,922.3 984.0,923.7 985.2,922.0 986.4,920.7 987.6,921.3 988.7,921.5 989.9,923.6 991.1,924.3 992.3,921.1 993.5,920.6 994.7,922.2 995.9,922.7 997.0,922.8 998.2,921.8 999.4,921.4 1000.6,921.1 1001.8,921.4 1003.0,921.8 1004.2,921.2 1005.3,920.3 1006.5,920.4 1007.7,919.0 1008.9,918.7 1010.1,920.0 1011.3,920.8 1012.4,919.9 1013.6,920.2 1014.8,922.5 1016.0,922.4 1017.2,920.3 1018.4,920.4 1019.6,919.7 1020.7,918.6 1021.9,921.0 1023.1,921.1 1024.3,918.0 1025.5,918.5 1026.7,921.2 1027.9,919.9 1029.0,917.4 1030.2,916.8 1031.4,918.2 1032.6,918.8 1033.8,918.1 1035.0,917.1 1036.1,915.3 1037.3,916.3 1038.5,916.9 1039.7,916.9 1040.9,917.4 1042.1,917.8 1043.3,918.8 1044.4,917.4 1045.6,917.3 1046.8,916.7 1048.0,916.1 1049.2,916.6 1050.4,916.0 1051.6,916.1 1052.7,915.7 1053.9,914.1 1055.1,911.1 1056.3,912.9 1057.5,915.1 1058.7,913.9 1059.8,914.7 1061.0,913.9 1062.2,913.6 1063.4,913.6 1064.6,911.3 1065.8,912.7 1067.0,913.2 1068.1,910.5 1069.3,911.2 1070.5,910.8 1071.7,909.1 1072.9,909.5 1074.1,908.3 1075.3,908.7 1076.4,908.8 1077.6,907.3 1078.8,908.4 1080.0,907.9 1081.2,906.8 1082.4,905.4 1083.5,906.0 1084.7,906.4 1085.9,905.0 1087.1,902.9 1088.3,903.0 1089.5,903.0 1090.7,903.1 1091.8,903.3 1093.0,901.3 1094.2,900.8 1095.4,900.9 1096.6,902.5 1097.8,902.8 1098.9,899.4 1100.1,897.4 1101.3,898.9 1102.5,897.8 1103.7,897.3 1104.9,898.3 1106.1,898.3 1107.2,896.0 1108.4,892.6 1109.6,894.0 1110.8,894.8 1112.0,892.2 1113.2,889.5 1114.4,891.3 1115.5,891.4 1116.7,886.6 1117.9,885.5 1119.1,882.7 1120.3,877.5 1121.5,873.1 1122.6,869.1 1123.8,864.3 1125.0,859.0 1126.2,853.5 1127.4,847.8 1128.6,844.2 1129.8,842.3 1130.9,838.5 1132.1,836.0 1133.3,838.4 1134.5,843.5 1135.7,849.5 1136.9,853.2 1138.1,858.7 1139.2,867.7 1140.4,874.9 1141.6,880.1 1142.8,886.0 1144.0,892.0 1145.2,895.0 1146.3,897.2 1147.5,901.5 1148.7,905.9 1149.9,908.2 1151.1,908.3 1152.3,908.1 1153.5,909.4 1154.6,909.9 1155.8,910.0 1157.0,912.1 1158.2,915.1 1159.4,915.8 1160.6,914.9 1161.8,914.2 1162.9,912.8 1164.1,911.5 1165.3,912.0 1166.5,914.4 1167.7,912.3 1168.9,911.1 1170.0,913.5 1171.2,914.1 1172.4,915.1 1173.6,914.3 1174.8,912.8 1176.0,912.0 1177.2,911.3 1178.3,912.0 1179.5,911.8 1180.7,912.8 1181.9,914.3 1183.1,914.1 1184.3,914.8 1185.5,914.8 1186.6,913.9 1187.8,913.2 1189.0,912.8 1190.2,915.1 1191.4,915.0 1192.6,911.9 1193.7,913.5 1194.9,915.4 1196.1,913.7 1197.3,914.1 1198.5,914.6 1199.7,913.3 1200.9,913.9 1202.0,913.6 1203.2,912.1 1204.4,913.4 1205.6,913.8 1206.8,911.6 1208.0,911.8 1209.2,912.4 1210.3,911.7 1211.5,912.4 1212.7,912.1 1213.9,911.6 1215.1,913.5 1216.3,913.4 1217.4,911.8 1218.6,911.7 1219.8,913.1 1221.0,913.5 1222.2,911.8 1223.4,912.1 1224.6,912.4 1225.7,911.5 1226.9,912.7 1228.1,913.3 1229.3,913.6 1230.5,913.4 1231.7,913.2 1232.9,914.8 1234.0,914.8 1235.2,914.4 1236.4,914.1 1237.6,913.6 1238.8,915.1 1240.0,916.1 1241.1,914.7 1242.3,913.7 1243.5,914.0 1244.7,912.1 1245.9,911.1 1247.1,913.6 1248.3,913.9 1249.4,912.6 1250.6,912.9 1251.8,915.7 1253.0,915.9 1254.2,914.3 1255.4,912.4 1256.5,914.1 1257.7,914.6 1258.9,913.0 1260.1,913.5 1261.3,913.6 1262.5,914.3 1263.7,912.9 1264.8,913.0 1266.0,913.0 1267.2,913.1 1268.4,914.4 1269.6,914.5 1270.8,914.6 1272.0,914.5 1273.1,912.8 1274.3,913.7 1275.5,916.4 1276.7,915.3 1277.9,912.3 1279.1,911.3 1280.2,911.6 1281.4,911.4 1282.6,913.3 1283.8,914.3 1285.0,916.0 1286.2,916.6 1287.4,913.7 1288.5,914.5 1289.7,916.9 1290.9,916.7 1292.1,914.6 1293.3,912.4 1294.5,910.2 1295.7,910.0 1296.8,913.7 1298.0,917.0 1299.2,915.5 1300.4,912.5 1301.6,914.1 1302.8,915.5 1303.9,914.4 1305.1,913.9 1306.3,913.6 1307.5,913.2 1308.7,912.1 1309.9,912.4 1311.1,912.7 1312.2,911.0 1313.4,912.6 1314.6,915.3 1315.8,913.9 1317.0,911.3 1318.2,911.6 1319.4,912.2 1320.5,912.7 1321.7,912.8 1322.9,913.1 1324.1,913.3 1325.3,912.4 1326.5,912.6 1327.6,911.7 1328.8,911.1 1330.0,912.9 1331.2,913.0 1332.4,914.0 1333.6,913.9 1334.8,909.9 1335.9,910.3 1337.1,912.3 1338.3,912.7 1339.5,912.4 1340.7,912.8 1341.9,913.0 1343.1,912.8 1344.2,913.8 1345.4,913.4 1346.6,913.1 1347.8,914.7 1349.0,912.8 1350.2,911.1 1351.3,914.5 1352.5,913.6 1353.7,912.1 1354.9,912.9 1356.1,912.2 1357.3,913.2 1358.5,916.5 1359.6,915.8 1360.8,912.9 1362.0,911.9 1363.2,912.8 1364.4,913.9 1365.6,912.9 1366.8,912.9 1367.9,913.5 1369.1,913.0 1370.3,913.6 1371.5,912.4 1372.7,912.3 1373.9,913.7 1375.0,913.2 1376.2,913.9 1377.4,913.1 1378.6,911.5 1379.8,910.7 1381.0,911.0 1382.2,912.8 1383.3,912.5 1384.5,913.4 1385.7,914.1 1386.9,912.3 1388.1,911.9 1389.3,913.4 1390.5,915.2 1391.6,912.7 1392.8,911.8 1394.0,914.8 1395.2,915.4 1396.4,913.9 1397.6,911.7 1398.7,911.7 1399.9,911.7 1401.1,911.5 1402.3,912.2" fill="none" stroke="#805072" stroke-width="4.2" stroke-linejoin="round" stroke-linecap="butt"/>
<polyline points="929.5,966.8 930.7,965.8 931.9,966.0 933.1,966.5 934.2,966.4 935.4,966.5 936.6,966.2 937.8,965.1 939.0,964.5 940.2,965.4 941.3,963.9 942.5,966.7 943.7,969.2 944.9,969.1 946.1,968.0 947.3,965.0 948.5,964.3 949.6,964.4 950.8,965.8 952.0,964.4 953.2,963.3 954.4,965.1 955.6,966.4 956.8,965.7 957.9,965.1 959.1,965.9 960.3,965.2 961.5,964.5 962.7,965.5 963.9,964.5 965.0,964.6 966.2,966.8 967.4,965.5 968.6,964.3 969.8,964.5 971.0,965.0 972.2,965.0 973.3,965.1 974.5,966.6 975.7,965.3 976.9,964.7 978.1,965.6 979.3,963.9 980.5,963.6 981.6,961.7 982.8,963.0 984.0,966.2 985.2,964.8 986.4,962.8 987.6,963.1 988.7,965.6 989.9,964.3 991.1,963.8 992.3,965.0 993.5,963.2 994.7,963.6 995.9,964.9 997.0,963.7 998.2,963.4 999.4,963.6 1000.6,964.2 1001.8,964.6 1003.0,964.7 1004.2,966.0 1005.3,963.2 1006.5,961.3 1007.7,962.0 1008.9,963.3 1010.1,964.2 1011.3,963.4 1012.4,964.6 1013.6,963.9 1014.8,963.1 1016.0,963.8 1017.2,964.5 1018.4,963.3 1019.6,961.1 1020.7,961.5 1021.9,963.0 1023.1,963.8 1024.3,961.7 1025.5,961.4 1026.7,962.2 1027.9,961.7 1029.0,962.9 1030.2,961.5 1031.4,962.2 1032.6,963.3 1033.8,961.4 1035.0,963.0 1036.1,962.5 1037.3,960.3 1038.5,960.4 1039.7,961.5 1040.9,961.0 1042.1,959.0 1043.3,959.0 1044.4,958.3 1045.6,957.5 1046.8,958.1 1048.0,957.4 1049.2,958.5 1050.4,960.1 1051.6,958.7 1052.7,957.5 1053.9,956.3 1055.1,955.4 1056.3,956.4 1057.5,957.0 1058.7,957.1 1059.8,957.3 1061.0,957.1 1062.2,955.6 1063.4,955.2 1064.6,956.1 1065.8,955.1 1067.0,954.8 1068.1,954.8 1069.3,955.9 1070.5,955.0 1071.7,952.8 1072.9,952.5 1074.1,951.4 1075.3,952.9 1076.4,950.5 1077.6,948.1 1078.8,949.7 1080.0,951.0 1081.2,950.1 1082.4,947.6 1083.5,948.0 1084.7,947.6 1085.9,945.6 1087.1,945.6 1088.3,947.1 1089.5,945.1 1090.7,943.4 1091.8,944.4 1093.0,942.0 1094.2,941.1 1095.4,943.0 1096.6,942.4 1097.8,942.1 1098.9,941.7 1100.1,940.7 1101.3,941.1 1102.5,941.0 1103.7,939.6 1104.9,938.6 1106.1,937.8 1107.2,936.9 1108.4,936.7 1109.6,936.3 1110.8,936.2 1112.0,936.0 1113.2,933.5 1114.4,933.8 1115.5,932.6 1116.7,925.6 1117.9,924.9 1119.1,923.0 1120.3,918.9 1121.5,915.4 1122.6,907.1 1123.8,900.5 1125.0,897.0 1126.2,893.8 1127.4,888.7 1128.6,881.9 1129.8,877.1 1130.9,875.6 1132.1,874.8 1133.3,876.3 1134.5,879.8 1135.7,885.4 1136.9,893.8 1138.1,899.7 1139.2,908.1 1140.4,915.5 1141.6,920.2 1142.8,927.8 1144.0,933.2 1145.2,938.1 1146.3,941.6 1147.5,944.8 1148.7,948.4 1149.9,949.5 1151.1,950.7 1152.3,951.5 1153.5,952.1 1154.6,954.8 1155.8,954.9 1157.0,953.9 1158.2,955.6 1159.4,957.0 1160.6,955.1 1161.8,956.0 1162.9,958.4 1164.1,957.4 1165.3,957.9 1166.5,960.5 1167.7,961.0 1168.9,958.5 1170.0,956.4 1171.2,956.2 1172.4,956.5 1173.6,958.3 1174.8,958.1 1176.0,955.9 1177.2,957.2 1178.3,957.4 1179.5,957.1 1180.7,957.8 1181.9,957.2 1183.1,958.8 1184.3,957.7 1185.5,957.1 1186.6,958.6 1187.8,958.3 1189.0,957.8 1190.2,956.9 1191.4,957.3 1192.6,956.4 1193.7,956.2 1194.9,957.9 1196.1,960.8 1197.3,960.7 1198.5,958.3 1199.7,958.8 1200.9,959.4 1202.0,958.0 1203.2,956.2 1204.4,955.0 1205.6,954.9 1206.8,957.3 1208.0,958.1 1209.2,958.7 1210.3,958.3 1211.5,956.7 1212.7,957.9 1213.9,958.3 1215.1,958.0 1216.3,958.5 1217.4,957.0 1218.6,953.5 1219.8,953.9 1221.0,955.8 1222.2,956.4 1223.4,957.8 1224.6,955.8 1225.7,955.8 1226.9,957.5 1228.1,957.3 1229.3,957.1 1230.5,957.0 1231.7,957.0 1232.9,958.1 1234.0,958.8 1235.2,956.3 1236.4,957.1 1237.6,959.0 1238.8,956.8 1240.0,955.7 1241.1,956.0 1242.3,958.5 1243.5,959.3 1244.7,958.4 1245.9,959.9 1247.1,958.3 1248.3,955.8 1249.4,957.6 1250.6,959.7 1251.8,958.9 1253.0,957.9 1254.2,958.6 1255.4,956.4 1256.5,954.6 1257.7,957.0 1258.9,958.0 1260.1,955.5 1261.3,952.9 1262.5,955.5 1263.7,957.3 1264.8,955.6 1266.0,957.1 1267.2,958.8 1268.4,956.4 1269.6,956.5 1270.8,958.1 1272.0,958.7 1273.1,959.0 1274.3,957.1 1275.5,957.2 1276.7,959.0 1277.9,958.8 1279.1,955.9 1280.2,955.1 1281.4,957.3 1282.6,957.3 1283.8,956.4 1285.0,956.4 1286.2,958.5 1287.4,958.3 1288.5,956.8 1289.7,956.3 1290.9,957.4 1292.1,957.1 1293.3,956.3 1294.5,958.9 1295.7,957.2 1296.8,956.0 1298.0,956.9 1299.2,956.6 1300.4,955.9 1301.6,954.7 1302.8,954.6 1303.9,955.0 1305.1,957.6 1306.3,959.8 1307.5,958.1 1308.7,957.4 1309.9,957.1 1311.1,956.0 1312.2,957.8 1313.4,958.9 1314.6,958.7 1315.8,958.5 1317.0,957.6 1318.2,956.1 1319.4,954.6 1320.5,956.2 1321.7,958.0 1322.9,955.6 1324.1,954.2 1325.3,955.4 1326.5,958.5 1327.6,959.6 1328.8,957.2 1330.0,956.8 1331.2,955.1 1332.4,954.4 1333.6,956.0 1334.8,957.1 1335.9,958.4 1337.1,957.9 1338.3,957.5 1339.5,957.1 1340.7,956.1 1341.9,955.7 1343.1,955.1 1344.2,956.6 1345.4,957.3 1346.6,955.8 1347.8,954.5 1349.0,954.9 1350.2,956.1 1351.3,956.6 1352.5,956.5 1353.7,955.3 1354.9,956.3 1356.1,957.1 1357.3,956.5 1358.5,955.5 1359.6,956.6 1360.8,956.3 1362.0,955.5 1363.2,954.5 1364.4,952.8 1365.6,955.0 1366.8,956.9 1367.9,954.2 1369.1,953.0 1370.3,954.8 1371.5,955.7 1372.7,956.4 1373.9,955.2 1375.0,954.5 1376.2,956.0 1377.4,955.4 1378.6,954.3 1379.8,956.4 1381.0,955.7 1382.2,955.0 1383.3,955.2 1384.5,955.5 1385.7,955.9 1386.9,956.9 1388.1,956.9 1389.3,956.7 1390.5,956.9 1391.6,957.9 1392.8,958.1 1394.0,955.0 1395.2,954.4 1396.4,954.0 1397.6,955.4 1398.7,955.1 1399.9,952.5 1401.1,955.1 1402.3,957.4" fill="none" stroke="#9f3c55" stroke-width="4.2" stroke-linejoin="round" stroke-linecap="butt"/>
<polyline points="929.5,1011.9 930.7,1009.8 931.9,1011.2 933.1,1010.1 934.2,1009.4 935.4,1009.2 936.6,1008.4 937.8,1009.7 939.0,1009.0 940.2,1008.0 941.3,1009.5 942.5,1011.6 943.7,1011.6 944.9,1009.5 946.1,1009.2 947.3,1008.1 948.5,1007.6 949.6,1009.0 950.8,1008.8 952.0,1009.8 953.2,1010.2 954.4,1010.0 955.6,1011.9 956.8,1012.9 957.9,1010.1 959.1,1008.8 960.3,1009.5 961.5,1010.4 962.7,1010.8 963.9,1008.7 965.0,1008.0 966.2,1009.2 967.4,1007.8 968.6,1007.4 969.8,1009.0 971.0,1007.9 972.2,1009.1 973.3,1009.6 974.5,1009.0 975.7,1010.2 976.9,1009.7 978.1,1008.9 979.3,1008.1 980.5,1007.9 981.6,1007.7 982.8,1006.7 984.0,1005.3 985.2,1005.9 986.4,1006.7 987.6,1007.6 988.7,1009.3 989.9,1008.3 991.1,1007.3 992.3,1007.0 993.5,1008.6 994.7,1006.9 995.9,1006.4 997.0,1008.7 998.2,1006.6 999.4,1007.8 1000.6,1009.2 1001.8,1009.7 1003.0,1010.5 1004.2,1010.3 1005.3,1008.9 1006.5,1006.8 1007.7,1007.1 1008.9,1006.2 1010.1,1004.6 1011.3,1005.6 1012.4,1007.0 1013.6,1007.2 1014.8,1007.4 1016.0,1005.9 1017.2,1005.1 1018.4,1006.6 1019.6,1006.9 1020.7,1006.0 1021.9,1006.1 1023.1,1006.2 1024.3,1005.8 1025.5,1004.7 1026.7,1003.5 1027.9,1006.0 1029.0,1007.0 1030.2,1005.0 1031.4,1005.1 1032.6,1004.9 1033.8,1004.1 1035.0,1004.1 1036.1,1004.3 1037.3,1004.4 1038.5,1003.7 1039.7,1005.2 1040.9,1006.3 1042.1,1005.7 1043.3,1003.1 1044.4,1001.7 1045.6,1002.7 1046.8,1002.6 1048.0,1003.2 1049.2,1003.8 1050.4,1002.2 1051.6,1001.6 1052.7,1000.7 1053.9,999.9 1055.1,1000.9 1056.3,1001.0 1057.5,1000.8 1058.7,1000.3 1059.8,998.5 1061.0,996.0 1062.2,998.1 1063.4,999.6 1064.6,997.5 1065.8,998.1 1067.0,998.9 1068.1,998.1 1069.3,999.2 1070.5,997.8 1071.7,995.2 1072.9,995.4 1074.1,994.8 1075.3,994.0 1076.4,991.5 1077.6,991.0 1078.8,991.8 1080.0,992.0 1081.2,991.9 1082.4,991.2 1083.5,991.1 1084.7,991.1 1085.9,991.2 1087.1,989.4 1088.3,987.4 1089.5,986.9 1090.7,987.7 1091.8,987.3 1093.0,988.4 1094.2,987.3 1095.4,984.5 1096.6,984.6 1097.8,983.0 1098.9,983.2 1100.1,982.9 1101.3,982.4 1102.5,982.3 1103.7,981.7 1104.9,981.5 1106.1,979.3 1107.2,979.6 1108.4,980.8 1109.6,979.9 1110.8,978.3 1112.0,974.6 1113.2,974.2 1114.4,977.1 1115.5,975.3 1116.7,972.6 1117.9,969.7 1119.1,964.7 1120.3,961.0 1121.5,956.9 1122.6,952.5 1123.8,946.0 1125.0,939.0 1126.2,932.2 1127.4,924.9 1128.6,921.6 1129.8,919.1 1130.9,916.1 1132.1,914.9 1133.3,918.3 1134.5,923.0 1135.7,925.3 1136.9,931.9 1138.1,940.7 1139.2,948.2 1140.4,956.9 1141.6,963.0 1142.8,968.0 1144.0,974.4 1145.2,978.8 1146.3,982.4 1147.5,988.1 1148.7,991.1 1149.9,992.1 1151.1,994.1 1152.3,995.6 1153.5,997.6 1154.6,996.9 1155.8,996.7 1157.0,998.4 1158.2,999.0 1159.4,999.1 1160.6,999.1 1161.8,1001.6 1162.9,1002.6 1164.1,1000.8 1165.3,999.5 1166.5,998.2 1167.7,999.8 1168.9,999.4 1170.0,998.5 1171.2,999.9 1172.4,1000.5 1173.6,1001.6 1174.8,999.8 1176.0,999.5 1177.2,1000.9 1178.3,999.7 1179.5,998.1 1180.7,1000.5 1181.9,1002.2 1183.1,1000.9 1184.3,999.1 1185.5,996.9 1186.6,998.6 1187.8,1000.5 1189.0,999.6 1190.2,998.9 1191.4,1000.0 1192.6,1000.3 1193.7,1000.6 1194.9,1003.8 1196.1,1004.4 1197.3,1001.8 1198.5,999.8 1199.7,1002.1 1200.9,1004.4 1202.0,1002.4 1203.2,1003.8 1204.4,1003.3 1205.6,999.3 1206.8,1002.5 1208.0,1002.7 1209.2,1000.2 1210.3,999.6 1211.5,999.1 1212.7,1000.6 1213.9,1000.7 1215.1,999.7 1216.3,999.6 1217.4,1000.4 1218.6,1001.9 1219.8,1001.4 1221.0,1000.1 1222.2,998.9 1223.4,998.9 1224.6,1000.6 1225.7,1001.2 1226.9,1000.4 1228.1,1000.0 1229.3,1001.3 1230.5,999.6 1231.7,997.4 1232.9,999.2 1234.0,1001.8 1235.2,1000.3 1236.4,1000.1 1237.6,998.6 1238.8,997.9 1240.0,999.6 1241.1,1000.6 1242.3,1001.5 1243.5,999.4 1244.7,998.9 1245.9,1000.4 1247.1,998.5 1248.3,997.4 1249.4,999.8 1250.6,1001.0 1251.8,1001.0 1253.0,999.2 1254.2,999.7 1255.4,1000.9 1256.5,1000.9 1257.7,999.8 1258.9,999.2 1260.1,999.5 1261.3,998.8 1262.5,1000.1 1263.7,1000.0 1264.8,998.6 1266.0,1000.2 1267.2,1000.4 1268.4,996.2 1269.6,997.1 1270.8,999.7 1272.0,1000.6 1273.1,1000.8 1274.3,1000.1 1275.5,999.8 1276.7,999.3 1277.9,1001.0 1279.1,1000.0 1280.2,999.1 1281.4,1001.0 1282.6,1000.7 1283.8,1000.7 1285.0,1000.4 1286.2,999.5 1287.4,1000.2 1288.5,999.5 1289.7,1000.3 1290.9,1000.0 1292.1,1000.7 1293.3,1000.1 1294.5,998.1 1295.7,999.8 1296.8,1000.6 1298.0,999.9 1299.2,999.3 1300.4,1000.0 1301.6,998.9 1302.8,999.1 1303.9,1000.2 1305.1,999.4 1306.3,998.2 1307.5,998.7 1308.7,999.5 1309.9,999.4 1311.1,998.8 1312.2,997.5 1313.4,999.0 1314.6,1000.5 1315.8,999.6 1317.0,999.0 1318.2,997.5 1319.4,998.1 1320.5,999.2 1321.7,998.2 1322.9,999.5 1324.1,1001.2 1325.3,1000.5 1326.5,999.8 1327.6,999.1 1328.8,999.6 1330.0,998.2 1331.2,998.3 1332.4,1000.1 1333.6,998.4 1334.8,997.5 1335.9,998.5 1337.1,998.9 1338.3,998.1 1339.5,998.4 1340.7,998.6 1341.9,999.4 1343.1,999.9 1344.2,1000.6 1345.4,1001.4 1346.6,1001.0 1347.8,999.0 1349.0,998.4 1350.2,999.2 1351.3,999.6 1352.5,1000.1 1353.7,999.5 1354.9,1000.1 1356.1,999.0 1357.3,999.7 1358.5,999.9 1359.6,996.0 1360.8,997.3 1362.0,999.7 1363.2,1000.3 1364.4,1000.4 1365.6,1000.5 1366.8,999.9 1367.9,998.8 1369.1,1001.0 1370.3,1001.8 1371.5,1001.5 1372.7,1000.6 1373.9,998.3 1375.0,998.4 1376.2,1000.3 1377.4,1000.7 1378.6,999.5 1379.8,1000.9 1381.0,1000.5 1382.2,997.9 1383.3,1000.7 1384.5,999.9 1385.7,999.2 1386.9,1000.5 1388.1,997.9 1389.3,999.2 1390.5,1001.9 1391.6,1001.4 1392.8,1000.7 1394.0,999.8 1395.2,999.3 1396.4,999.6 1397.6,999.6 1398.7,999.3 1399.9,999.6 1401.1,999.1 1402.3,998.3" fill="none" stroke="#bf2839" stroke-width="4.2" stroke-linejoin="round" stroke-linecap="butt"/>
<polyline points="929.5,1055.2 930.7,1055.5 931.9,1054.3 933.1,1053.8 934.2,1052.9 935.4,1054.4 936.6,1053.0 937.8,1051.8 939.0,1055.2 940.2,1056.8 941.3,1053.8 942.5,1051.0 943.7,1053.1 944.9,1053.9 946.1,1052.6 947.3,1053.2 948.5,1054.8 949.6,1054.8 950.8,1053.6 952.0,1053.5 953.2,1055.4 954.4,1054.7 955.6,1055.1 956.8,1056.5 957.9,1053.7 959.1,1052.7 960.3,1053.6 961.5,1053.7 962.7,1052.9 963.9,1053.0 965.0,1055.7 966.2,1055.4 967.4,1056.4 968.6,1058.5 969.8,1054.1 971.0,1051.2 972.2,1053.1 973.3,1054.1 974.5,1053.5 975.7,1052.5 976.9,1053.2 978.1,1054.9 979.3,1054.8 980.5,1053.8 981.6,1052.9 982.8,1053.4 984.0,1052.9 985.2,1053.4 986.4,1054.1 987.6,1053.8 988.7,1054.6 989.9,1052.8 991.1,1052.1 992.3,1054.1 993.5,1053.7 994.7,1053.7 995.9,1053.1 997.0,1051.3 998.2,1050.9 999.4,1052.6 1000.6,1053.7 1001.8,1050.9 1003.0,1050.9 1004.2,1051.4 1005.3,1049.7 1006.5,1052.1 1007.7,1052.4 1008.9,1050.3 1010.1,1050.6 1011.3,1049.6 1012.4,1050.0 1013.6,1051.4 1014.8,1051.2 1016.0,1051.5 1017.2,1051.5 1018.4,1053.0 1019.6,1051.8 1020.7,1050.3 1021.9,1051.3 1023.1,1050.5 1024.3,1050.8 1025.5,1050.8 1026.7,1050.8 1027.9,1052.3 1029.0,1052.7 1030.2,1050.0 1031.4,1050.3 1032.6,1052.3 1033.8,1049.2 1035.0,1047.0 1036.1,1047.3 1037.3,1048.3 1038.5,1049.3 1039.7,1048.4 1040.9,1048.0 1042.1,1048.5 1043.3,1050.2 1044.4,1050.6 1045.6,1050.4 1046.8,1048.0 1048.0,1046.8 1049.2,1048.1 1050.4,1047.2 1051.6,1046.8 1052.7,1046.2 1053.9,1046.5 1055.1,1048.1 1056.3,1045.6 1057.5,1044.5 1058.7,1046.2 1059.8,1045.9 1061.0,1045.6 1062.2,1044.4 1063.4,1042.8 1064.6,1043.4 1065.8,1043.4 1067.0,1042.6 1068.1,1041.3 1069.3,1041.3 1070.5,1041.9 1071.7,1039.6 1072.9,1040.4 1074.1,1040.5 1075.3,1038.6 1076.4,1038.9 1077.6,1038.7 1078.8,1036.5 1080.0,1035.5 1081.2,1036.3 1082.4,1036.1 1083.5,1034.8 1084.7,1032.8 1085.9,1031.9 1087.1,1031.9 1088.3,1030.6 1089.5,1032.1 1090.7,1034.3 1091.8,1034.4 1093.0,1031.8 1094.2,1031.2 1095.4,1031.5 1096.6,1028.1 1097.8,1028.8 1098.9,1029.6 1100.1,1028.0 1101.3,1026.2 1102.5,1026.8 1103.7,1026.7 1104.9,1024.1 1106.1,1023.7 1107.2,1023.6 1108.4,1022.0 1109.6,1021.2 1110.8,1021.5 1112.0,1021.0 1113.2,1019.1 1114.4,1017.4 1115.5,1015.4 1116.7,1012.4 1117.9,1008.8 1119.1,1005.7 1120.3,1002.1 1121.5,995.8 1122.6,989.6 1123.8,982.5 1125.0,975.8 1126.2,969.2 1127.4,961.4 1128.6,955.8 1129.8,954.3 1130.9,953.9 1132.1,952.0 1133.3,953.2 1134.5,957.9 1135.7,963.8 1136.9,970.3 1138.1,977.2 1139.2,987.8 1140.4,996.9 1141.6,1004.0 1142.8,1012.5 1144.0,1017.9 1145.2,1022.3 1146.3,1027.1 1147.5,1028.5 1148.7,1030.7 1149.9,1034.4 1151.1,1037.9 1152.3,1041.5 1153.5,1041.1 1154.6,1041.3 1155.8,1043.1 1157.0,1043.7 1158.2,1044.1 1159.4,1042.0 1160.6,1042.6 1161.8,1045.4 1162.9,1045.1 1164.1,1044.8 1165.3,1046.2 1166.5,1048.2 1167.7,1047.7 1168.9,1046.4 1170.0,1046.7 1171.2,1047.5 1172.4,1047.6 1173.6,1047.1 1174.8,1046.4 1176.0,1047.6 1177.2,1048.0 1178.3,1046.2 1179.5,1045.8 1180.7,1047.4 1181.9,1047.6 1183.1,1046.4 1184.3,1045.4 1185.5,1046.9 1186.6,1046.9 1187.8,1045.9 1189.0,1046.3 1190.2,1045.2 1191.4,1046.2 1192.6,1047.6 1193.7,1046.9 1194.9,1045.5 1196.1,1045.8 1197.3,1047.7 1198.5,1047.9 1199.7,1046.2 1200.9,1044.5 1202.0,1045.3 1203.2,1046.6 1204.4,1046.3 1205.6,1046.1 1206.8,1046.8 1208.0,1047.1 1209.2,1046.0 1210.3,1045.5 1211.5,1045.6 1212.7,1046.6 1213.9,1047.1 1215.1,1046.8 1216.3,1045.3 1217.4,1043.4 1218.6,1044.0 1219.8,1043.8 1221.0,1044.4 1222.2,1046.0 1223.4,1046.9 1224.6,1046.4 1225.7,1045.6 1226.9,1045.7 1228.1,1044.9 1229.3,1045.1 1230.5,1046.6 1231.7,1046.4 1232.9,1045.4 1234.0,1045.3 1235.2,1044.6 1236.4,1044.8 1237.6,1045.6 1238.8,1043.8 1240.0,1042.6 1241.1,1044.2 1242.3,1046.0 1243.5,1046.2 1244.7,1045.0 1245.9,1043.8 1247.1,1042.0 1248.3,1042.9 1249.4,1044.9 1250.6,1045.0 1251.8,1045.0 1253.0,1045.0 1254.2,1046.0 1255.4,1044.7 1256.5,1043.6 1257.7,1043.3 1258.9,1043.9 1260.1,1044.8 1261.3,1043.7 1262.5,1045.6 1263.7,1047.3 1264.8,1044.9 1266.0,1043.6 1267.2,1045.9 1268.4,1046.6 1269.6,1045.9 1270.8,1045.6 1272.0,1043.3 1273.1,1043.3 1274.3,1042.9 1275.5,1042.5 1276.7,1045.0 1277.9,1043.3 1279.1,1041.8 1280.2,1041.9 1281.4,1041.0 1282.6,1041.2 1283.8,1041.8 1285.0,1044.3 1286.2,1046.1 1287.4,1044.1 1288.5,1043.2 1289.7,1042.9 1290.9,1043.5 1292.1,1043.1 1293.3,1040.8 1294.5,1041.2 1295.7,1042.3 1296.8,1042.3 1298.0,1042.2 1299.2,1042.4 1300.4,1043.7 1301.6,1043.7 1302.8,1043.1 1303.9,1044.6 1305.1,1044.4 1306.3,1043.0 1307.5,1043.0 1308.7,1043.5 1309.9,1043.2 1311.1,1042.1 1312.2,1043.2 1313.4,1043.4 1314.6,1042.0 1315.8,1041.6 1317.0,1043.1 1318.2,1044.7 1319.4,1043.8 1320.5,1043.8 1321.7,1041.6 1322.9,1041.3 1324.1,1044.3 1325.3,1042.9 1326.5,1042.6 1327.6,1045.3 1328.8,1044.9 1330.0,1043.7 1331.2,1044.0 1332.4,1044.6 1333.6,1044.9 1334.8,1043.6 1335.9,1042.8 1337.1,1043.6 1338.3,1044.2 1339.5,1043.9 1340.7,1043.1 1341.9,1042.5 1343.1,1043.7 1344.2,1042.9 1345.4,1042.4 1346.6,1042.6 1347.8,1042.8 1349.0,1042.8 1350.2,1042.1 1351.3,1042.3 1352.5,1041.7 1353.7,1041.3 1354.9,1041.6 1356.1,1041.8 1357.3,1043.1 1358.5,1043.3 1359.6,1044.0 1360.8,1046.0 1362.0,1044.2 1363.2,1042.4 1364.4,1040.8 1365.6,1039.9 1366.8,1040.2 1367.9,1041.1 1369.1,1041.6 1370.3,1040.3 1371.5,1040.2 1372.7,1040.9 1373.9,1041.2 1375.0,1042.3 1376.2,1043.2 1377.4,1043.6 1378.6,1042.4 1379.8,1041.3 1381.0,1042.3 1382.2,1041.7 1383.3,1041.5 1384.5,1040.9 1385.7,1038.6 1386.9,1039.1 1388.1,1041.4 1389.3,1043.1 1390.5,1040.7 1391.6,1038.9 1392.8,1041.7 1394.0,1041.1 1395.2,1041.5 1396.4,1042.9 1397.6,1041.6 1398.7,1041.4 1399.9,1042.2 1401.1,1039.7 1402.3,1039.0" fill="none" stroke="#df141c" stroke-width="4.2" stroke-linejoin="round" stroke-linecap="butt"/>
<polyline points="929.5,1096.6 930.7,1095.3 931.9,1095.7 933.1,1096.2 934.2,1096.2 935.4,1095.9 936.6,1097.8 937.8,1097.8 939.0,1096.1 940.2,1097.1 941.3,1099.1 942.5,1099.5 943.7,1096.4 944.9,1093.3 946.1,1094.5 947.3,1097.1 948.5,1096.0 949.6,1095.1 950.8,1096.1 952.0,1096.4 953.2,1096.2 954.4,1095.5 955.6,1094.4 956.8,1093.4 957.9,1093.2 959.1,1094.2 960.3,1094.8 961.5,1094.6 962.7,1095.5 963.9,1094.4 965.0,1093.3 966.2,1093.9 967.4,1094.8 968.6,1095.1 969.8,1094.1 971.0,1095.1 972.2,1096.0 973.3,1096.6 974.5,1094.4 975.7,1092.5 976.9,1094.0 978.1,1094.9 979.3,1095.6 980.5,1097.4 981.6,1098.3 982.8,1097.2 984.0,1095.7 985.2,1096.1 986.4,1095.3 987.6,1093.7 988.7,1094.3 989.9,1096.3 991.1,1096.6 992.3,1095.0 993.5,1095.9 994.7,1097.8 995.9,1094.9 997.0,1092.4 998.2,1094.4 999.4,1093.5 1000.6,1092.1 1001.8,1093.1 1003.0,1093.9 1004.2,1093.5 1005.3,1092.4 1006.5,1093.0 1007.7,1094.5 1008.9,1094.0 1010.1,1096.3 1011.3,1096.7 1012.4,1094.5 1013.6,1094.5 1014.8,1094.3 1016.0,1093.9 1017.2,1093.6 1018.4,1093.8 1019.6,1094.0 1020.7,1093.6 1021.9,1093.8 1023.1,1093.3 1024.3,1094.3 1025.5,1094.9 1026.7,1093.0 1027.9,1094.2 1029.0,1094.9 1030.2,1092.5 1031.4,1092.2 1032.6,1094.1 1033.8,1096.5 1035.0,1095.4 1036.1,1092.5 1037.3,1092.2 1038.5,1090.3 1039.7,1090.8 1040.9,1092.4 1042.1,1092.8 1043.3,1092.9 1044.4,1092.2 1045.6,1091.3 1046.8,1090.6 1048.0,1091.9 1049.2,1092.6 1050.4,1090.5 1051.6,1090.8 1052.7,1091.2 1053.9,1088.7 1055.1,1088.6 1056.3,1089.6 1057.5,1088.8 1058.7,1088.5 1059.8,1089.5 1061.0,1089.8 1062.2,1088.5 1063.4,1087.4 1064.6,1086.8 1065.8,1087.5 1067.0,1088.9 1068.1,1088.7 1069.3,1087.9 1070.5,1087.9 1071.7,1087.0 1072.9,1085.8 1074.1,1087.2 1075.3,1089.8 1076.4,1090.3 1077.6,1086.0 1078.8,1084.1 1080.0,1084.9 1081.2,1084.9 1082.4,1084.4 1083.5,1085.4 1084.7,1087.2 1085.9,1086.6 1087.1,1084.4 1088.3,1082.0 1089.5,1081.3 1090.7,1081.7 1091.8,1082.9 1093.0,1081.8 1094.2,1080.6 1095.4,1081.0 1096.6,1080.5 1097.8,1080.5 1098.9,1080.8 1100.1,1080.6 1101.3,1080.8 1102.5,1079.7 1103.7,1078.4 1104.9,1077.4 1106.1,1078.6 1107.2,1078.1 1108.4,1076.1 1109.6,1076.9 1110.8,1077.1 1112.0,1077.0 1113.2,1076.9 1114.4,1074.4 1115.5,1072.1 1116.7,1070.8 1117.9,1068.0 1119.1,1066.8 1120.3,1065.1 1121.5,1061.9 1122.6,1057.4 1123.8,1053.2 1125.0,1050.1 1126.2,1045.6 1127.4,1042.1 1128.6,1037.7 1129.8,1036.0 1130.9,1035.2 1132.1,1033.0 1133.3,1036.4 1134.5,1039.4 1135.7,1041.6 1136.9,1045.9 1138.1,1052.0 1139.2,1057.4 1140.4,1062.0 1141.6,1067.0 1142.8,1069.0 1144.0,1072.5 1145.2,1078.9 1146.3,1082.7 1147.5,1083.9 1148.7,1083.5 1149.9,1084.5 1151.1,1087.9 1152.3,1087.1 1153.5,1086.2 1154.6,1087.4 1155.8,1088.8 1157.0,1088.1 1158.2,1087.8 1159.4,1091.1 1160.6,1092.2 1161.8,1091.3 1162.9,1090.6 1164.1,1089.2 1165.3,1089.8 1166.5,1091.1 1167.7,1088.6 1168.9,1088.0 1170.0,1090.5 1171.2,1090.6 1172.4,1091.3 1173.6,1090.9 1174.8,1088.9 1176.0,1089.9 1177.2,1089.9 1178.3,1089.7 1179.5,1090.3 1180.7,1090.8 1181.9,1091.7 1183.1,1092.4 1184.3,1091.5 1185.5,1090.4 1186.6,1090.9 1187.8,1091.6 1189.0,1092.4 1190.2,1092.0 1191.4,1090.5 1192.6,1089.7 1193.7,1090.7 1194.9,1090.7 1196.1,1088.6 1197.3,1088.7 1198.5,1088.5 1199.7,1088.2 1200.9,1088.8 1202.0,1089.7 1203.2,1089.8 1204.4,1090.4 1205.6,1091.2 1206.8,1090.4 1208.0,1092.4 1209.2,1093.4 1210.3,1090.5 1211.5,1088.9 1212.7,1088.7 1213.9,1089.0 1215.1,1092.7 1216.3,1092.7 1217.4,1090.6 1218.6,1091.3 1219.8,1091.1 1221.0,1091.4 1222.2,1091.8 1223.4,1090.0 1224.6,1088.7 1225.7,1090.4 1226.9,1091.2 1228.1,1089.7 1229.3,1089.0 1230.5,1089.7 1231.7,1091.1 1232.9,1091.7 1234.0,1091.6 1235.2,1092.9 1236.4,1091.1 1237.6,1089.7 1238.8,1090.8 1240.0,1091.4 1241.1,1090.3 1242.3,1087.6 1243.5,1087.7 1244.7,1088.8 1245.9,1090.4 1247.1,1091.1 1248.3,1089.7 1249.4,1088.5 1250.6,1088.7 1251.8,1090.9 1253.0,1091.0 1254.2,1090.5 1255.4,1089.1 1256.5,1088.1 1257.7,1089.1 1258.9,1089.5 1260.1,1089.1 1261.3,1089.7 1262.5,1091.2 1263.7,1092.5 1264.8,1090.6 1266.0,1088.4 1267.2,1088.9 1268.4,1089.3 1269.6,1088.4 1270.8,1089.3 1272.0,1089.7 1273.1,1089.6 1274.3,1091.0 1275.5,1091.4 1276.7,1090.9 1277.9,1090.0 1279.1,1089.7 1280.2,1090.0 1281.4,1091.6 1282.6,1090.6 1283.8,1088.1 1285.0,1088.0 1286.2,1089.2 1287.4,1089.5 1288.5,1090.9 1289.7,1091.6 1290.9,1089.0 1292.1,1088.3 1293.3,1090.1 1294.5,1089.7 1295.7,1089.1 1296.8,1089.2 1298.0,1090.3 1299.2,1091.4 1300.4,1089.8 1301.6,1089.1 1302.8,1088.9 1303.9,1089.1 1305.1,1089.8 1306.3,1089.4 1307.5,1088.4 1308.7,1090.2 1309.9,1091.2 1311.1,1090.0 1312.2,1089.6 1313.4,1088.5 1314.6,1089.8 1315.8,1090.2 1317.0,1090.6 1318.2,1091.7 1319.4,1090.6 1320.5,1090.2 1321.7,1090.3 1322.9,1090.5 1324.1,1090.2 1325.3,1090.0 1326.5,1091.3 1327.6,1092.3 1328.8,1091.0 1330.0,1089.3 1331.2,1088.0 1332.4,1085.9 1333.6,1086.7 1334.8,1090.0 1335.9,1089.9 1337.1,1088.6 1338.3,1088.6 1339.5,1090.1 1340.7,1090.3 1341.9,1089.4 1343.1,1090.6 1344.2,1091.6 1345.4,1089.3 1346.6,1090.2 1347.8,1091.1 1349.0,1089.3 1350.2,1088.2 1351.3,1087.4 1352.5,1089.4 1353.7,1088.8 1354.9,1088.5 1356.1,1087.9 1357.3,1085.9 1358.5,1087.7 1359.6,1088.5 1360.8,1088.3 1362.0,1089.7 1363.2,1088.9 1364.4,1087.7 1365.6,1087.9 1366.8,1087.3 1367.9,1086.8 1369.1,1086.8 1370.3,1088.2 1371.5,1089.0 1372.7,1088.5 1373.9,1088.7 1375.0,1089.3 1376.2,1087.5 1377.4,1086.8 1378.6,1086.8 1379.8,1087.9 1381.0,1089.6 1382.2,1089.3 1383.3,1089.6 1384.5,1089.5 1385.7,1089.2 1386.9,1089.3 1388.1,1087.6 1389.3,1086.6 1390.5,1088.9 1391.6,1089.9 1392.8,1088.6 1394.0,1087.6 1395.2,1088.8 1396.4,1088.5 1397.6,1089.2 1398.7,1090.4 1399.9,1087.6 1401.1,1089.5 1402.3,1091.2" fill="none" stroke="#ff0000" stroke-width="4.2" stroke-linejoin="round" stroke-linecap="butt"/>
</g>
<rect x="929.5" y="636.2" width="472.8" height="520.9" fill="none" stroke="#000" stroke-width="2.2"/>
<line x1="929.5" y1="1157.1" x2="929.5" y2="1164.1" stroke="#000" stroke-width="2.2"/>
<line x1="1008.3" y1="1157.1" x2="1008.3" y2="1161.1" stroke="#000" stroke-width="2.2"/>
<line x1="1087.1" y1="1157.1" x2="1087.1" y2="1164.1" stroke="#000" stroke-width="2.2"/>
<line x1="1165.9" y1="1157.1" x2="1165.9" y2="1161.1" stroke="#000" stroke-width="2.2"/>
<line x1="1244.7" y1="1157.1" x2="1244.7" y2="1164.1" stroke="#000" stroke-width="2.2"/>
<line x1="1323.5" y1="1157.1" x2="1323.5" y2="1161.1" stroke="#000" stroke-width="2.2"/>
<line x1="1402.3" y1="1157.1" x2="1402.3" y2="1164.1" stroke="#000" stroke-width="2.2"/>
<text transform="translate(896.25 1192.1) scale(1 1.035)" font-size="29.4">1800</text>
<text transform="translate(1053.85 1192.1) scale(1 1.035)" font-size="29.4">1900</text>
<text transform="translate(1211.83 1192.1) scale(1 1.035)" font-size="29.4">2000</text>
<text transform="translate(1369.43 1192.1) scale(1 1.035)" font-size="29.4">2100</text>
<line x1="1359" y1="719.4" x2="1359" y2="1049.8" stroke="#000" stroke-width="2.2"/>
<polygon points="1359,699.4 1351.3,728.9 1366.7,728.9" fill="#000"/>
<text transform="translate(1292.85 696.7) scale(1 1.035)" font-size="31.37">-0.75 V</text>
<text transform="translate(1310.83 1076.9) scale(1 1.035)" font-size="31.77">-0.4 V</text>
<text transform="translate(1321.15 1123.3) scale(1 1.035)" font-size="31.69">OCP</text>
<text transform="translate(892.6 988.12) rotate(-90)" font-size="32.24">Intensity (a.u.)</text>
<text transform="translate(1033.48 1231)" font-size="32.46"><tspan dy="-0" font-size="32.46">Raman shift (cm</tspan><tspan dy="-13.96" font-size="20.13">-1</tspan><tspan dy="13.96" font-size="32.46">)</tspan></text>
<text transform="translate(845.96 652.5)" font-size="40" font-weight="bold">d</text>
</g>
<g id="panel-e">
<rect x="1824.5" y="712.0" width="33.2" height="395.8" fill="#d3d3d3"/>
<clipPath id="clip-panel-e"><rect x="1542.9" y="631.6" width="473.8" height="521"/></clipPath>
<g clip-path="url(#clip-panel-e)">
<polyline points="1542.9,744.8 1544.1,747.4 1545.3,746.8 1546.5,746.5 1547.6,745.9 1548.8,743.0 1550.0,743.0 1551.2,742.7 1552.4,743.2 1553.6,744.5 1554.8,745.1 1556.0,742.9 1557.1,743.1 1558.3,744.8 1559.5,744.9 1560.7,745.1 1561.9,744.6 1563.1,743.7 1564.3,743.7 1565.5,744.2 1566.6,744.5 1567.8,743.9 1569.0,744.6 1570.2,744.6 1571.4,741.7 1572.6,742.5 1573.8,743.9 1575.0,740.0 1576.1,741.0 1577.3,745.5 1578.5,744.8 1579.7,741.2 1580.9,738.5 1582.1,741.6 1583.3,743.1 1584.5,741.7 1585.6,742.9 1586.8,744.8 1588.0,743.1 1589.2,741.9 1590.4,742.5 1591.6,741.5 1592.8,739.8 1594.0,738.5 1595.1,741.6 1596.3,743.1 1597.5,740.7 1598.7,741.7 1599.9,743.2 1601.1,741.4 1602.3,742.6 1603.5,744.1 1604.6,744.1 1605.8,742.4 1607.0,741.2 1608.2,740.4 1609.4,739.7 1610.6,740.0 1611.8,740.1 1613.0,739.8 1614.1,739.8 1615.3,741.5 1616.5,740.1 1617.7,738.0 1618.9,736.7 1620.1,737.8 1621.3,740.7 1622.5,742.0 1623.6,745.4 1624.8,745.2 1626.0,740.5 1627.2,740.0 1628.4,743.2 1629.6,741.5 1630.8,739.4 1632.0,740.3 1633.1,740.0 1634.3,739.7 1635.5,738.7 1636.7,740.3 1637.9,741.0 1639.1,739.6 1640.3,738.1 1641.5,738.6 1642.6,738.0 1643.8,736.2 1645.0,736.1 1646.2,737.4 1647.4,738.2 1648.6,737.0 1649.8,739.3 1651.0,739.9 1652.1,738.7 1653.3,739.4 1654.5,739.7 1655.7,740.1 1656.9,739.7 1658.1,737.8 1659.3,738.0 1660.5,739.9 1661.6,737.9 1662.8,736.6 1664.0,737.6 1665.2,737.4 1666.4,737.9 1667.6,736.9 1668.8,736.8 1670.0,737.4 1671.1,738.2 1672.3,739.9 1673.5,738.7 1674.7,734.9 1675.9,734.3 1677.1,734.2 1678.3,733.8 1679.5,735.3 1680.6,736.3 1681.8,736.7 1683.0,734.1 1684.2,732.8 1685.4,735.2 1686.6,736.9 1687.8,734.8 1689.0,734.7 1690.1,735.1 1691.3,735.4 1692.5,735.6 1693.7,733.0 1694.9,732.7 1696.1,734.0 1697.3,734.6 1698.5,734.9 1699.6,735.0 1700.8,733.6 1702.0,732.3 1703.2,733.0 1704.4,735.4 1705.6,736.3 1706.8,734.6 1708.0,733.9 1709.1,735.6 1710.3,734.8 1711.5,730.6 1712.7,732.5 1713.9,735.1 1715.1,732.0 1716.3,732.4 1717.5,734.5 1718.6,733.8 1719.8,732.6 1721.0,733.2 1722.2,732.6 1723.4,734.1 1724.6,734.4 1725.8,731.9 1727.0,732.6 1728.1,732.5 1729.3,732.2 1730.5,731.1 1731.7,731.6 1732.9,732.9 1734.1,733.7 1735.3,734.8 1736.5,733.5 1737.6,733.8 1738.8,734.3 1740.0,733.9 1741.2,733.4 1742.4,731.8 1743.6,730.2 1744.8,732.2 1746.0,733.2 1747.1,730.1 1748.3,728.3 1749.5,727.6 1750.7,730.3 1751.9,732.1 1753.1,729.7 1754.3,727.9 1755.5,727.8 1756.6,728.0 1757.8,727.4 1759.0,727.7 1760.2,726.8 1761.4,723.9 1762.6,722.8 1763.8,720.4 1765.0,720.5 1766.1,719.2 1767.3,711.0 1768.5,705.8 1769.7,701.7 1770.9,697.7 1772.1,695.6 1773.3,691.4 1774.5,684.1 1775.6,681.5 1776.8,681.0 1778.0,679.0 1779.2,678.1 1780.4,677.7 1781.6,678.8 1782.8,682.6 1784.0,685.7 1785.1,688.8 1786.3,695.9 1787.5,702.4 1788.7,708.0 1789.9,711.0 1791.1,711.1 1792.3,714.6 1793.5,720.4 1794.6,722.6 1795.8,723.8 1797.0,726.1 1798.2,728.7 1799.4,728.7 1800.6,725.8 1801.8,724.9 1803.0,725.8 1804.1,727.1 1805.3,727.9 1806.5,727.2 1807.7,727.8 1808.9,728.7 1810.1,729.1 1811.3,728.2 1812.5,728.7 1813.6,729.1 1814.8,727.2 1816.0,726.9 1817.2,727.0 1818.4,728.2 1819.6,729.3 1820.8,729.0 1822.0,728.6 1823.1,729.1 1824.3,728.9 1825.5,728.1 1826.7,728.3 1827.9,727.0 1829.1,726.5 1830.3,726.2 1831.5,723.6 1832.6,721.8 1833.8,723.0 1835.0,723.4 1836.2,722.9 1837.4,721.3 1838.6,719.6 1839.8,720.8 1841.0,722.6 1842.1,723.9 1843.3,723.2 1844.5,723.0 1845.7,723.9 1846.9,723.3 1848.1,724.6 1849.3,727.7 1850.5,727.7 1851.6,727.2 1852.8,726.6 1854.0,726.8 1855.2,727.3 1856.4,729.0 1857.6,727.8 1858.8,725.8 1860.0,728.8 1861.1,729.4 1862.3,727.7 1863.5,727.7 1864.7,729.6 1865.9,730.4 1867.1,729.9 1868.3,732.3 1869.5,735.1 1870.6,734.9 1871.8,732.8 1873.0,731.0 1874.2,732.3 1875.4,732.6 1876.6,732.0 1877.8,733.9 1879.0,736.0 1880.1,736.9 1881.3,736.2 1882.5,734.3 1883.7,733.7 1884.9,736.7 1886.1,739.0 1887.3,736.9 1888.5,735.6 1889.6,737.6 1890.8,737.2 1892.0,734.9 1893.2,734.8 1894.4,736.3 1895.6,735.8 1896.8,736.4 1898.0,738.5 1899.1,739.2 1900.3,736.6 1901.5,733.5 1902.7,735.6 1903.9,737.3 1905.1,736.8 1906.3,736.5 1907.5,735.8 1908.6,736.1 1909.8,737.5 1911.0,738.8 1912.2,739.8 1913.4,742.1 1914.6,741.2 1915.8,739.3 1917.0,739.2 1918.1,738.5 1919.3,739.6 1920.5,740.1 1921.7,738.6 1922.9,737.9 1924.1,739.3 1925.3,740.3 1926.5,738.8 1927.6,737.7 1928.8,738.0 1930.0,738.4 1931.2,738.0 1932.4,737.7 1933.6,735.9 1934.8,736.4 1936.0,739.8 1937.1,737.6 1938.3,737.0 1939.5,739.5 1940.7,739.0 1941.9,740.6 1943.1,740.6 1944.3,738.1 1945.5,738.3 1946.6,739.2 1947.8,738.1 1949.0,736.9 1950.2,738.3 1951.4,738.3 1952.6,739.1 1953.8,739.6 1955.0,740.3 1956.1,741.4 1957.3,739.5 1958.5,738.2 1959.7,737.7 1960.9,738.6 1962.1,739.4 1963.3,739.5 1964.5,739.1 1965.6,737.6 1966.8,736.7 1968.0,736.9 1969.2,738.9 1970.4,739.3 1971.6,739.5 1972.8,741.8 1974.0,740.5 1975.1,738.4 1976.3,737.8 1977.5,737.0 1978.7,739.1 1979.9,740.9 1981.1,739.6 1982.3,738.6 1983.5,738.2 1984.6,739.6 1985.8,740.3 1987.0,738.3 1988.2,736.0 1989.4,738.0 1990.6,738.3 1991.8,737.3 1993.0,740.5 1994.1,738.8 1995.3,738.4 1996.5,741.0 1997.7,739.2 1998.9,736.9 2000.1,737.6 2001.3,739.4 2002.5,741.0 2003.6,740.2 2004.8,741.1 2006.0,742.7 2007.2,739.1 2008.4,737.0 2009.6,736.8 2010.8,737.0 2012.0,739.5 2013.1,739.4 2014.3,740.1 2015.5,739.9 2016.7,736.6" fill="none" stroke="#009fe3" stroke-width="4.2" stroke-linejoin="round" stroke-linecap="butt"/>
<polyline points="1542.9,795.7 1544.1,795.6 1545.3,792.3 1546.5,793.9 1547.6,795.4 1548.8,794.1 1550.0,795.3 1551.2,793.3 1552.4,791.3 1553.6,792.3 1554.8,791.1 1556.0,792.0 1557.1,789.3 1558.3,788.9 1559.5,793.8 1560.7,792.4 1561.9,790.6 1563.1,792.3 1564.3,793.6 1565.5,791.5 1566.6,790.0 1567.8,790.4 1569.0,789.6 1570.2,790.7 1571.4,790.1 1572.6,789.3 1573.8,789.8 1575.0,790.8 1576.1,790.7 1577.3,789.2 1578.5,787.1 1579.7,787.5 1580.9,788.5 1582.1,787.5 1583.3,787.4 1584.5,787.7 1585.6,788.8 1586.8,791.5 1588.0,793.4 1589.2,789.6 1590.4,787.6 1591.6,787.8 1592.8,788.5 1594.0,788.4 1595.1,788.4 1596.3,789.2 1597.5,787.3 1598.7,786.0 1599.9,787.7 1601.1,788.8 1602.3,787.9 1603.5,788.1 1604.6,788.3 1605.8,789.2 1607.0,788.3 1608.2,788.3 1609.4,790.0 1610.6,787.2 1611.8,784.0 1613.0,783.2 1614.1,784.8 1615.3,787.4 1616.5,786.9 1617.7,784.4 1618.9,785.0 1620.1,787.1 1621.3,789.0 1622.5,790.4 1623.6,786.5 1624.8,786.1 1626.0,788.7 1627.2,787.3 1628.4,786.2 1629.6,787.2 1630.8,786.8 1632.0,784.5 1633.1,785.0 1634.3,786.3 1635.5,786.7 1636.7,788.1 1637.9,786.8 1639.1,785.2 1640.3,787.3 1641.5,786.7 1642.6,784.5 1643.8,783.9 1645.0,783.7 1646.2,782.7 1647.4,783.9 1648.6,784.9 1649.8,783.9 1651.0,785.7 1652.1,784.6 1653.3,783.3 1654.5,784.1 1655.7,783.3 1656.9,784.4 1658.1,783.7 1659.3,781.6 1660.5,782.3 1661.6,786.5 1662.8,785.1 1664.0,781.9 1665.2,784.1 1666.4,784.5 1667.6,784.9 1668.8,784.5 1670.0,782.5 1671.1,783.2 1672.3,783.6 1673.5,782.9 1674.7,783.3 1675.9,783.0 1677.1,782.2 1678.3,780.6 1679.5,780.8 1680.6,780.9 1681.8,779.1 1683.0,781.6 1684.2,782.3 1685.4,780.9 1686.6,781.9 1687.8,780.4 1689.0,780.3 1690.1,782.0 1691.3,780.2 1692.5,778.2 1693.7,779.1 1694.9,777.0 1696.1,778.4 1697.3,783.4 1698.5,782.4 1699.6,781.7 1700.8,781.0 1702.0,780.2 1703.2,781.2 1704.4,780.4 1705.6,780.6 1706.8,782.7 1708.0,782.5 1709.1,779.4 1710.3,778.2 1711.5,777.8 1712.7,776.1 1713.9,776.0 1715.1,777.9 1716.3,779.6 1717.5,778.9 1718.6,776.2 1719.8,775.0 1721.0,775.6 1722.2,778.0 1723.4,778.3 1724.6,776.5 1725.8,775.6 1727.0,777.7 1728.1,779.8 1729.3,778.1 1730.5,777.0 1731.7,777.8 1732.9,777.2 1734.1,776.7 1735.3,775.9 1736.5,776.0 1737.6,776.9 1738.8,778.6 1740.0,778.4 1741.2,776.6 1742.4,775.9 1743.6,775.2 1744.8,774.5 1746.0,774.7 1747.1,777.5 1748.3,776.5 1749.5,774.0 1750.7,774.9 1751.9,776.7 1753.1,774.7 1754.3,771.7 1755.5,771.4 1756.6,772.0 1757.8,772.2 1759.0,769.6 1760.2,767.7 1761.4,769.3 1762.6,769.8 1763.8,766.0 1765.0,761.5 1766.1,760.0 1767.3,758.3 1768.5,752.6 1769.7,747.7 1770.9,743.2 1772.1,739.2 1773.3,736.5 1774.5,732.8 1775.6,727.8 1776.8,723.2 1778.0,723.2 1779.2,722.1 1780.4,721.8 1781.6,724.5 1782.8,725.7 1784.0,728.5 1785.1,734.1 1786.3,740.3 1787.5,746.9 1788.7,751.8 1789.9,755.0 1791.1,756.5 1792.3,760.3 1793.5,765.0 1794.6,766.2 1795.8,766.9 1797.0,767.1 1798.2,767.2 1799.4,769.4 1800.6,769.4 1801.8,769.0 1803.0,772.4 1804.1,774.6 1805.3,774.4 1806.5,773.7 1807.7,772.5 1808.9,773.2 1810.1,774.8 1811.3,774.9 1812.5,774.0 1813.6,774.6 1814.8,774.3 1816.0,773.5 1817.2,774.2 1818.4,772.7 1819.6,772.0 1820.8,769.2 1822.0,770.4 1823.1,775.6 1824.3,775.9 1825.5,772.3 1826.7,771.8 1827.9,771.3 1829.1,770.0 1830.3,770.1 1831.5,771.3 1832.6,770.7 1833.8,767.4 1835.0,769.4 1836.2,769.0 1837.4,764.8 1838.6,766.2 1839.8,770.1 1841.0,770.7 1842.1,770.0 1843.3,768.2 1844.5,765.9 1845.7,767.7 1846.9,770.2 1848.1,771.5 1849.3,772.2 1850.5,770.4 1851.6,772.5 1852.8,772.7 1854.0,769.9 1855.2,769.9 1856.4,772.1 1857.6,775.8 1858.8,776.0 1860.0,776.0 1861.1,778.3 1862.3,778.6 1863.5,778.7 1864.7,776.3 1865.9,774.4 1867.1,776.2 1868.3,778.8 1869.5,778.7 1870.6,778.4 1871.8,779.4 1873.0,780.6 1874.2,781.3 1875.4,782.4 1876.6,783.7 1877.8,782.4 1879.0,784.0 1880.1,784.0 1881.3,783.4 1882.5,784.1 1883.7,782.9 1884.9,781.2 1886.1,782.5 1887.3,782.7 1888.5,781.5 1889.6,782.3 1890.8,781.8 1892.0,784.5 1893.2,784.9 1894.4,783.0 1895.6,785.0 1896.8,785.8 1898.0,784.3 1899.1,782.9 1900.3,783.3 1901.5,786.1 1902.7,788.7 1903.9,787.4 1905.1,785.1 1906.3,786.0 1907.5,785.8 1908.6,784.5 1909.8,785.0 1911.0,786.6 1912.2,785.8 1913.4,783.9 1914.6,783.9 1915.8,784.6 1917.0,787.6 1918.1,787.7 1919.3,785.3 1920.5,785.9 1921.7,788.2 1922.9,787.5 1924.1,785.5 1925.3,787.6 1926.5,789.1 1927.6,789.4 1928.8,788.2 1930.0,786.3 1931.2,784.8 1932.4,786.0 1933.6,786.5 1934.8,785.7 1936.0,786.9 1937.1,788.0 1938.3,788.3 1939.5,787.5 1940.7,787.7 1941.9,786.9 1943.1,786.2 1944.3,785.5 1945.5,786.0 1946.6,788.0 1947.8,786.8 1949.0,785.7 1950.2,787.5 1951.4,786.1 1952.6,785.1 1953.8,785.8 1955.0,788.0 1956.1,789.6 1957.3,785.4 1958.5,784.1 1959.7,785.8 1960.9,787.2 1962.1,787.9 1963.3,786.7 1964.5,786.6 1965.6,787.2 1966.8,789.1 1968.0,789.8 1969.2,788.4 1970.4,786.8 1971.6,785.7 1972.8,786.4 1974.0,787.8 1975.1,788.6 1976.3,787.5 1977.5,788.2 1978.7,788.8 1979.9,787.6 1981.1,787.6 1982.3,785.4 1983.5,785.3 1984.6,786.2 1985.8,784.2 1987.0,784.6 1988.2,786.4 1989.4,788.4 1990.6,786.6 1991.8,786.4 1993.0,790.6 1994.1,788.1 1995.3,787.5 1996.5,790.0 1997.7,789.2 1998.9,789.2 2000.1,790.8 2001.3,789.3 2002.5,786.3 2003.6,785.7 2004.8,786.3 2006.0,787.6 2007.2,788.1 2008.4,786.3 2009.6,784.8 2010.8,786.6 2012.0,787.2 2013.1,788.1 2014.3,787.9 2015.5,787.7 2016.7,788.5" fill="none" stroke="#208bc7" stroke-width="4.2" stroke-linejoin="round" stroke-linecap="butt"/>
<polyline points="1542.9,835.2 1544.1,835.8 1545.3,835.0 1546.5,834.3 1547.6,833.6 1548.8,833.2 1550.0,832.9 1551.2,832.7 1552.4,834.8 1553.6,836.4 1554.8,834.3 1556.0,832.3 1557.1,832.7 1558.3,834.4 1559.5,835.1 1560.7,834.5 1561.9,832.9 1563.1,832.8 1564.3,834.9 1565.5,834.7 1566.6,832.9 1567.8,830.3 1569.0,831.0 1570.2,831.4 1571.4,831.2 1572.6,832.8 1573.8,833.1 1575.0,831.7 1576.1,831.2 1577.3,831.0 1578.5,830.8 1579.7,829.8 1580.9,829.1 1582.1,830.8 1583.3,832.1 1584.5,830.7 1585.6,829.0 1586.8,830.2 1588.0,830.4 1589.2,830.9 1590.4,831.4 1591.6,830.4 1592.8,830.6 1594.0,831.0 1595.1,827.7 1596.3,827.5 1597.5,830.1 1598.7,829.0 1599.9,829.6 1601.1,829.0 1602.3,827.8 1603.5,830.4 1604.6,830.5 1605.8,829.9 1607.0,828.9 1608.2,828.6 1609.4,828.4 1610.6,829.9 1611.8,831.0 1613.0,828.3 1614.1,827.2 1615.3,827.6 1616.5,827.3 1617.7,826.4 1618.9,827.1 1620.1,827.6 1621.3,826.6 1622.5,826.5 1623.6,830.1 1624.8,831.8 1626.0,829.7 1627.2,827.2 1628.4,826.4 1629.6,826.3 1630.8,825.2 1632.0,825.2 1633.1,827.2 1634.3,826.8 1635.5,827.1 1636.7,829.3 1637.9,828.2 1639.1,829.2 1640.3,826.9 1641.5,821.9 1642.6,823.7 1643.8,826.5 1645.0,828.5 1646.2,827.4 1647.4,825.9 1648.6,827.6 1649.8,828.3 1651.0,827.0 1652.1,825.7 1653.3,825.6 1654.5,826.0 1655.7,827.6 1656.9,825.3 1658.1,822.5 1659.3,824.5 1660.5,826.7 1661.6,827.1 1662.8,824.8 1664.0,823.1 1665.2,823.5 1666.4,822.6 1667.6,823.4 1668.8,823.1 1670.0,822.2 1671.1,824.4 1672.3,823.9 1673.5,822.7 1674.7,823.9 1675.9,822.2 1677.1,823.1 1678.3,824.6 1679.5,822.4 1680.6,823.3 1681.8,823.6 1683.0,821.3 1684.2,822.5 1685.4,824.9 1686.6,824.0 1687.8,822.2 1689.0,820.5 1690.1,820.3 1691.3,822.6 1692.5,821.9 1693.7,819.9 1694.9,819.9 1696.1,822.3 1697.3,825.1 1698.5,824.0 1699.6,822.6 1700.8,821.8 1702.0,822.4 1703.2,823.4 1704.4,821.7 1705.6,822.7 1706.8,824.3 1708.0,821.9 1709.1,819.8 1710.3,819.4 1711.5,818.4 1712.7,818.2 1713.9,819.1 1715.1,818.4 1716.3,819.0 1717.5,821.2 1718.6,821.4 1719.8,820.1 1721.0,820.6 1722.2,819.6 1723.4,819.1 1724.6,821.3 1725.8,820.7 1727.0,820.0 1728.1,819.4 1729.3,820.9 1730.5,823.2 1731.7,820.3 1732.9,818.1 1734.1,817.9 1735.3,816.4 1736.5,816.6 1737.6,818.6 1738.8,817.3 1740.0,817.0 1741.2,817.3 1742.4,815.5 1743.6,815.9 1744.8,817.2 1746.0,817.5 1747.1,816.7 1748.3,815.2 1749.5,814.3 1750.7,814.0 1751.9,812.7 1753.1,813.0 1754.3,814.6 1755.5,814.6 1756.6,812.8 1757.8,811.8 1759.0,812.6 1760.2,812.9 1761.4,811.4 1762.6,807.4 1763.8,807.8 1765.0,807.2 1766.1,802.3 1767.3,798.3 1768.5,793.1 1769.7,787.9 1770.9,782.8 1772.1,776.9 1773.3,770.5 1774.5,766.2 1775.6,763.1 1776.8,759.8 1778.0,757.9 1779.2,757.5 1780.4,759.9 1781.6,761.6 1782.8,762.9 1784.0,768.7 1785.1,774.9 1786.3,779.1 1787.5,786.4 1788.7,789.1 1789.9,789.8 1791.1,794.5 1792.3,798.4 1793.5,803.5 1794.6,809.5 1795.8,810.6 1797.0,809.5 1798.2,810.9 1799.4,812.4 1800.6,811.8 1801.8,811.0 1803.0,812.5 1804.1,814.2 1805.3,812.1 1806.5,810.9 1807.7,813.3 1808.9,815.7 1810.1,817.6 1811.3,819.2 1812.5,817.9 1813.6,814.8 1814.8,814.7 1816.0,815.0 1817.2,814.6 1818.4,813.7 1819.6,815.8 1820.8,817.9 1822.0,815.0 1823.1,813.4 1824.3,813.7 1825.5,814.9 1826.7,813.7 1827.9,812.4 1829.1,814.1 1830.3,815.0 1831.5,814.5 1832.6,813.2 1833.8,813.4 1835.0,811.8 1836.2,810.3 1837.4,812.0 1838.6,813.8 1839.8,814.3 1841.0,813.3 1842.1,815.8 1843.3,816.0 1844.5,813.4 1845.7,811.6 1846.9,811.1 1848.1,813.8 1849.3,814.5 1850.5,815.3 1851.6,816.4 1852.8,816.1 1854.0,817.9 1855.2,818.3 1856.4,818.4 1857.6,819.6 1858.8,819.0 1860.0,818.0 1861.1,816.0 1862.3,815.7 1863.5,818.4 1864.7,820.6 1865.9,820.5 1867.1,820.5 1868.3,819.8 1869.5,819.6 1870.6,821.2 1871.8,820.3 1873.0,819.7 1874.2,820.1 1875.4,821.4 1876.6,823.1 1877.8,822.9 1879.0,823.6 1880.1,825.4 1881.3,825.5 1882.5,826.2 1883.7,826.3 1884.9,823.1 1886.1,822.5 1887.3,824.2 1888.5,825.9 1889.6,825.5 1890.8,826.5 1892.0,828.8 1893.2,829.2 1894.4,827.6 1895.6,827.8 1896.8,827.7 1898.0,825.4 1899.1,825.4 1900.3,826.7 1901.5,827.1 1902.7,828.4 1903.9,828.7 1905.1,825.8 1906.3,824.5 1907.5,828.1 1908.6,829.8 1909.8,828.6 1911.0,827.6 1912.2,827.0 1913.4,828.2 1914.6,829.2 1915.8,829.0 1917.0,828.6 1918.1,828.7 1919.3,828.8 1920.5,830.2 1921.7,829.6 1922.9,827.9 1924.1,828.1 1925.3,828.4 1926.5,827.3 1927.6,826.5 1928.8,826.0 1930.0,826.4 1931.2,827.3 1932.4,828.0 1933.6,830.0 1934.8,831.3 1936.0,829.6 1937.1,828.2 1938.3,828.2 1939.5,830.8 1940.7,831.6 1941.9,829.1 1943.1,829.2 1944.3,829.7 1945.5,831.2 1946.6,831.0 1947.8,827.8 1949.0,828.9 1950.2,829.7 1951.4,829.2 1952.6,829.6 1953.8,827.4 1955.0,827.5 1956.1,828.6 1957.3,828.0 1958.5,828.4 1959.7,827.7 1960.9,829.8 1962.1,831.5 1963.3,831.4 1964.5,832.7 1965.6,830.7 1966.8,830.3 1968.0,830.8 1969.2,828.0 1970.4,827.0 1971.6,824.5 1972.8,825.2 1974.0,829.1 1975.1,831.6 1976.3,831.7 1977.5,829.5 1978.7,829.0 1979.9,828.5 1981.1,829.7 1982.3,831.8 1983.5,830.3 1984.6,829.0 1985.8,831.6 1987.0,830.5 1988.2,830.8 1989.4,831.9 1990.6,831.9 1991.8,831.6 1993.0,831.2 1994.1,827.8 1995.3,824.8 1996.5,827.4 1997.7,828.3 1998.9,828.1 2000.1,827.5 2001.3,827.9 2002.5,830.0 2003.6,830.1 2004.8,830.6 2006.0,831.2 2007.2,829.1 2008.4,829.9 2009.6,829.8 2010.8,829.2 2012.0,827.1 2013.1,827.0 2014.3,829.0 2015.5,827.9 2016.7,828.3" fill="none" stroke="#4077aa" stroke-width="4.2" stroke-linejoin="round" stroke-linecap="butt"/>
<polyline points="1542.9,876.9 1544.1,875.6 1545.3,876.5 1546.5,876.2 1547.6,876.1 1548.8,878.8 1550.0,879.2 1551.2,878.8 1552.4,878.5 1553.6,877.6 1554.8,877.0 1556.0,875.6 1557.1,874.9 1558.3,876.7 1559.5,876.9 1560.7,876.4 1561.9,876.1 1563.1,874.5 1564.3,875.4 1565.5,875.9 1566.6,874.1 1567.8,874.5 1569.0,877.3 1570.2,877.8 1571.4,877.5 1572.6,876.1 1573.8,874.8 1575.0,875.5 1576.1,873.6 1577.3,873.1 1578.5,874.9 1579.7,877.8 1580.9,878.5 1582.1,877.1 1583.3,876.7 1584.5,877.3 1585.6,876.3 1586.8,873.3 1588.0,874.4 1589.2,877.5 1590.4,876.9 1591.6,875.4 1592.8,874.3 1594.0,874.0 1595.1,875.9 1596.3,877.4 1597.5,876.5 1598.7,877.5 1599.9,878.7 1601.1,875.1 1602.3,873.9 1603.5,874.8 1604.6,874.8 1605.8,876.3 1607.0,876.4 1608.2,874.2 1609.4,873.1 1610.6,874.7 1611.8,875.2 1613.0,872.8 1614.1,872.6 1615.3,871.8 1616.5,872.0 1617.7,875.6 1618.9,875.6 1620.1,873.4 1621.3,872.5 1622.5,872.1 1623.6,871.0 1624.8,870.8 1626.0,872.3 1627.2,873.5 1628.4,874.0 1629.6,871.8 1630.8,869.2 1632.0,870.2 1633.1,872.2 1634.3,872.7 1635.5,872.6 1636.7,872.2 1637.9,873.0 1639.1,872.0 1640.3,872.6 1641.5,873.4 1642.6,871.9 1643.8,871.2 1645.0,871.5 1646.2,873.3 1647.4,873.2 1648.6,873.2 1649.8,873.4 1651.0,873.1 1652.1,869.8 1653.3,871.3 1654.5,875.5 1655.7,871.5 1656.9,870.2 1658.1,873.2 1659.3,872.2 1660.5,868.1 1661.6,868.7 1662.8,870.0 1664.0,871.6 1665.2,873.2 1666.4,871.3 1667.6,870.4 1668.8,871.3 1670.0,872.1 1671.1,872.0 1672.3,872.2 1673.5,872.0 1674.7,871.7 1675.9,870.5 1677.1,871.4 1678.3,871.2 1679.5,867.5 1680.6,867.8 1681.8,870.3 1683.0,871.5 1684.2,871.5 1685.4,871.8 1686.6,870.8 1687.8,869.4 1689.0,868.8 1690.1,868.3 1691.3,868.1 1692.5,866.6 1693.7,866.3 1694.9,864.8 1696.1,864.5 1697.3,868.1 1698.5,868.7 1699.6,867.1 1700.8,867.6 1702.0,867.6 1703.2,866.9 1704.4,866.2 1705.6,866.9 1706.8,869.5 1708.0,869.7 1709.1,870.8 1710.3,873.4 1711.5,872.3 1712.7,869.7 1713.9,869.3 1715.1,867.2 1716.3,867.6 1717.5,870.3 1718.6,866.7 1719.8,867.0 1721.0,868.3 1722.2,866.5 1723.4,870.3 1724.6,869.0 1725.8,866.3 1727.0,866.9 1728.1,866.2 1729.3,866.1 1730.5,865.2 1731.7,863.0 1732.9,863.6 1734.1,866.3 1735.3,865.4 1736.5,864.5 1737.6,868.4 1738.8,868.3 1740.0,865.7 1741.2,866.4 1742.4,867.5 1743.6,864.9 1744.8,862.5 1746.0,865.1 1747.1,866.0 1748.3,865.5 1749.5,865.0 1750.7,863.6 1751.9,862.8 1753.1,864.0 1754.3,864.4 1755.5,862.7 1756.6,863.1 1757.8,863.6 1759.0,860.5 1760.2,858.9 1761.4,857.0 1762.6,856.5 1763.8,856.5 1765.0,853.4 1766.1,850.7 1767.3,845.1 1768.5,838.5 1769.7,834.5 1770.9,830.7 1772.1,823.3 1773.3,816.0 1774.5,815.5 1775.6,813.1 1776.8,809.7 1778.0,809.3 1779.2,807.2 1780.4,807.8 1781.6,808.9 1782.8,811.8 1784.0,817.3 1785.1,822.1 1786.3,825.1 1787.5,829.9 1788.7,835.8 1789.9,840.1 1791.1,843.9 1792.3,848.0 1793.5,852.4 1794.6,853.4 1795.8,855.2 1797.0,860.1 1798.2,863.0 1799.4,862.6 1800.6,861.3 1801.8,862.2 1803.0,861.4 1804.1,860.4 1805.3,862.7 1806.5,864.8 1807.7,863.8 1808.9,861.8 1810.1,864.1 1811.3,863.3 1812.5,860.6 1813.6,860.5 1814.8,862.0 1816.0,862.6 1817.2,864.9 1818.4,865.5 1819.6,863.6 1820.8,864.1 1822.0,863.0 1823.1,863.7 1824.3,864.3 1825.5,864.6 1826.7,865.2 1827.9,865.2 1829.1,863.7 1830.3,860.8 1831.5,862.3 1832.6,865.4 1833.8,864.5 1835.0,862.0 1836.2,861.4 1837.4,863.2 1838.6,863.4 1839.8,863.0 1841.0,863.5 1842.1,862.7 1843.3,862.7 1844.5,862.1 1845.7,862.3 1846.9,861.2 1848.1,860.6 1849.3,863.8 1850.5,863.0 1851.6,860.9 1852.8,862.0 1854.0,863.3 1855.2,863.5 1856.4,862.8 1857.6,863.6 1858.8,864.0 1860.0,864.8 1861.1,865.5 1862.3,866.3 1863.5,866.8 1864.7,865.3 1865.9,866.6 1867.1,867.2 1868.3,869.0 1869.5,869.8 1870.6,868.2 1871.8,867.6 1873.0,867.6 1874.2,867.4 1875.4,865.3 1876.6,866.6 1877.8,868.0 1879.0,866.3 1880.1,866.4 1881.3,867.2 1882.5,868.7 1883.7,869.6 1884.9,870.6 1886.1,870.2 1887.3,868.6 1888.5,869.2 1889.6,871.9 1890.8,871.3 1892.0,867.5 1893.2,867.2 1894.4,868.5 1895.6,868.6 1896.8,869.2 1898.0,871.5 1899.1,871.6 1900.3,871.8 1901.5,869.8 1902.7,871.8 1903.9,873.6 1905.1,871.8 1906.3,872.8 1907.5,871.1 1908.6,870.6 1909.8,870.2 1911.0,870.3 1912.2,871.8 1913.4,871.6 1914.6,870.0 1915.8,871.0 1917.0,872.8 1918.1,872.7 1919.3,872.9 1920.5,873.7 1921.7,873.5 1922.9,871.7 1924.1,869.7 1925.3,869.7 1926.5,872.0 1927.6,870.9 1928.8,872.2 1930.0,873.3 1931.2,872.7 1932.4,873.4 1933.6,873.6 1934.8,875.2 1936.0,874.3 1937.1,870.5 1938.3,869.5 1939.5,870.5 1940.7,871.3 1941.9,872.3 1943.1,872.8 1944.3,873.4 1945.5,872.9 1946.6,871.2 1947.8,870.5 1949.0,872.4 1950.2,872.9 1951.4,873.1 1952.6,872.3 1953.8,871.0 1955.0,871.3 1956.1,870.8 1957.3,870.5 1958.5,869.6 1959.7,871.1 1960.9,871.9 1962.1,871.2 1963.3,871.0 1964.5,871.4 1965.6,874.3 1966.8,874.2 1968.0,873.0 1969.2,873.8 1970.4,873.5 1971.6,871.0 1972.8,870.9 1974.0,871.5 1975.1,869.5 1976.3,869.1 1977.5,870.1 1978.7,870.3 1979.9,871.3 1981.1,873.8 1982.3,875.0 1983.5,872.5 1984.6,869.3 1985.8,870.6 1987.0,872.2 1988.2,874.4 1989.4,873.7 1990.6,871.2 1991.8,874.1 1993.0,873.4 1994.1,870.6 1995.3,870.2 1996.5,871.0 1997.7,871.7 1998.9,872.6 2000.1,871.3 2001.3,870.6 2002.5,870.8 2003.6,869.8 2004.8,871.5 2006.0,870.6 2007.2,871.1 2008.4,872.1 2009.6,871.2 2010.8,871.8 2012.0,871.7 2013.1,870.8 2014.3,871.4 2015.5,872.8 2016.7,872.6" fill="none" stroke="#60638e" stroke-width="4.2" stroke-linejoin="round" stroke-linecap="butt"/>
<polyline points="1542.9,925.9 1544.1,924.5 1545.3,924.2 1546.5,923.1 1547.6,922.9 1548.8,923.4 1550.0,922.1 1551.2,922.7 1552.4,925.5 1553.6,925.1 1554.8,922.9 1556.0,920.5 1557.1,918.9 1558.3,920.5 1559.5,921.4 1560.7,919.9 1561.9,921.8 1563.1,921.8 1564.3,920.7 1565.5,922.5 1566.6,922.3 1567.8,921.4 1569.0,924.3 1570.2,924.9 1571.4,922.3 1572.6,923.1 1573.8,923.1 1575.0,922.7 1576.1,923.8 1577.3,923.5 1578.5,924.8 1579.7,924.1 1580.9,921.2 1582.1,921.3 1583.3,921.2 1584.5,922.0 1585.6,923.3 1586.8,924.7 1588.0,926.0 1589.2,924.8 1590.4,921.7 1591.6,920.9 1592.8,920.3 1594.0,919.4 1595.1,922.0 1596.3,923.5 1597.5,923.6 1598.7,924.5 1599.9,922.9 1601.1,920.4 1602.3,921.7 1603.5,921.2 1604.6,919.1 1605.8,920.9 1607.0,921.5 1608.2,921.9 1609.4,922.2 1610.6,920.4 1611.8,922.5 1613.0,921.4 1614.1,921.2 1615.3,922.7 1616.5,921.2 1617.7,920.3 1618.9,920.7 1620.1,922.2 1621.3,917.5 1622.5,915.0 1623.6,917.5 1624.8,920.2 1626.0,920.7 1627.2,921.8 1628.4,923.1 1629.6,920.6 1630.8,918.7 1632.0,919.6 1633.1,919.6 1634.3,918.2 1635.5,920.1 1636.7,920.8 1637.9,919.6 1639.1,918.2 1640.3,919.5 1641.5,920.6 1642.6,919.3 1643.8,917.4 1645.0,919.9 1646.2,920.2 1647.4,917.7 1648.6,919.0 1649.8,920.5 1651.0,922.6 1652.1,921.1 1653.3,919.4 1654.5,921.9 1655.7,922.7 1656.9,920.4 1658.1,919.8 1659.3,918.4 1660.5,917.8 1661.6,918.8 1662.8,920.6 1664.0,922.1 1665.2,920.5 1666.4,916.9 1667.6,916.9 1668.8,917.5 1670.0,918.8 1671.1,918.7 1672.3,917.6 1673.5,918.5 1674.7,917.4 1675.9,916.6 1677.1,917.0 1678.3,917.4 1679.5,917.3 1680.6,918.5 1681.8,919.2 1683.0,918.3 1684.2,916.0 1685.4,917.3 1686.6,919.0 1687.8,916.4 1689.0,915.7 1690.1,917.9 1691.3,920.1 1692.5,919.6 1693.7,917.7 1694.9,916.1 1696.1,916.6 1697.3,917.4 1698.5,917.5 1699.6,918.6 1700.8,916.7 1702.0,913.6 1703.2,915.1 1704.4,918.0 1705.6,917.1 1706.8,917.8 1708.0,920.0 1709.1,918.1 1710.3,914.3 1711.5,914.9 1712.7,916.9 1713.9,914.6 1715.1,916.0 1716.3,919.5 1717.5,915.5 1718.6,912.5 1719.8,915.4 1721.0,915.9 1722.2,914.3 1723.4,915.2 1724.6,913.2 1725.8,914.7 1727.0,915.7 1728.1,913.3 1729.3,914.9 1730.5,914.9 1731.7,915.8 1732.9,916.3 1734.1,916.0 1735.3,917.4 1736.5,916.0 1737.6,915.8 1738.8,917.5 1740.0,913.6 1741.2,913.0 1742.4,913.3 1743.6,911.1 1744.8,912.5 1746.0,912.1 1747.1,912.8 1748.3,915.5 1749.5,915.3 1750.7,914.4 1751.9,913.1 1753.1,910.1 1754.3,911.4 1755.5,913.6 1756.6,912.1 1757.8,910.8 1759.0,910.3 1760.2,907.9 1761.4,906.6 1762.6,907.5 1763.8,902.8 1765.0,897.3 1766.1,896.0 1767.3,894.7 1768.5,890.1 1769.7,883.3 1770.9,876.3 1772.1,869.7 1773.3,866.4 1774.5,863.0 1775.6,858.4 1776.8,854.9 1778.0,853.1 1779.2,853.0 1780.4,853.8 1781.6,855.8 1782.8,861.6 1784.0,867.0 1785.1,869.3 1786.3,873.8 1787.5,879.3 1788.7,884.1 1789.9,889.0 1791.1,892.9 1792.3,897.2 1793.5,902.9 1794.6,904.0 1795.8,904.2 1797.0,909.3 1798.2,910.0 1799.4,908.1 1800.6,911.3 1801.8,912.3 1803.0,911.3 1804.1,911.7 1805.3,912.6 1806.5,911.3 1807.7,911.9 1808.9,915.3 1810.1,914.8 1811.3,913.8 1812.5,914.0 1813.6,912.3 1814.8,912.9 1816.0,912.0 1817.2,912.6 1818.4,914.8 1819.6,911.1 1820.8,908.9 1822.0,911.2 1823.1,915.7 1824.3,916.3 1825.5,915.1 1826.7,913.5 1827.9,914.0 1829.1,913.7 1830.3,913.7 1831.5,913.8 1832.6,909.7 1833.8,909.8 1835.0,911.3 1836.2,912.0 1837.4,913.7 1838.6,913.3 1839.8,912.3 1841.0,916.3 1842.1,917.9 1843.3,912.2 1844.5,910.6 1845.7,912.9 1846.9,914.2 1848.1,914.9 1849.3,914.8 1850.5,918.2 1851.6,916.2 1852.8,912.1 1854.0,915.2 1855.2,914.3 1856.4,913.6 1857.6,913.7 1858.8,914.5 1860.0,915.3 1861.1,916.7 1862.3,916.8 1863.5,916.8 1864.7,918.0 1865.9,915.9 1867.1,917.9 1868.3,918.4 1869.5,917.2 1870.6,917.3 1871.8,915.8 1873.0,916.1 1874.2,915.9 1875.4,916.9 1876.6,919.7 1877.8,917.7 1879.0,917.9 1880.1,918.7 1881.3,918.6 1882.5,919.2 1883.7,917.8 1884.9,918.7 1886.1,920.0 1887.3,920.9 1888.5,919.2 1889.6,918.7 1890.8,920.8 1892.0,919.9 1893.2,919.3 1894.4,920.3 1895.6,919.5 1896.8,918.5 1898.0,919.8 1899.1,920.5 1900.3,918.3 1901.5,917.7 1902.7,919.8 1903.9,920.1 1905.1,918.9 1906.3,916.6 1907.5,918.7 1908.6,920.4 1909.8,919.7 1911.0,919.9 1912.2,919.9 1913.4,921.2 1914.6,921.4 1915.8,921.2 1917.0,920.0 1918.1,917.2 1919.3,918.7 1920.5,921.9 1921.7,921.3 1922.9,918.6 1924.1,916.3 1925.3,916.4 1926.5,917.5 1927.6,919.2 1928.8,921.2 1930.0,921.1 1931.2,919.4 1932.4,920.0 1933.6,921.1 1934.8,922.0 1936.0,920.7 1937.1,919.5 1938.3,918.9 1939.5,919.5 1940.7,921.3 1941.9,919.2 1943.1,918.4 1944.3,921.6 1945.5,922.5 1946.6,921.9 1947.8,921.3 1949.0,922.3 1950.2,921.3 1951.4,918.3 1952.6,919.2 1953.8,920.1 1955.0,920.1 1956.1,920.6 1957.3,919.2 1958.5,919.8 1959.7,918.3 1960.9,918.3 1962.1,920.8 1963.3,920.7 1964.5,921.9 1965.6,921.0 1966.8,921.8 1968.0,921.0 1969.2,919.0 1970.4,919.0 1971.6,918.3 1972.8,919.9 1974.0,921.0 1975.1,920.3 1976.3,918.8 1977.5,918.7 1978.7,921.0 1979.9,920.4 1981.1,919.9 1982.3,919.3 1983.5,917.2 1984.6,917.1 1985.8,919.6 1987.0,919.7 1988.2,919.8 1989.4,921.3 1990.6,919.1 1991.8,918.4 1993.0,917.4 1994.1,916.7 1995.3,918.6 1996.5,918.3 1997.7,918.4 1998.9,918.2 2000.1,920.9 2001.3,922.5 2002.5,921.0 2003.6,921.1 2004.8,920.7 2006.0,918.3 2007.2,916.9 2008.4,919.3 2009.6,919.0 2010.8,921.8 2012.0,921.2 2013.1,920.7 2014.3,922.2 2015.5,917.5 2016.7,919.0" fill="none" stroke="#805072" stroke-width="4.2" stroke-linejoin="round" stroke-linecap="butt"/>
<polyline points="1542.9,967.0 1544.1,967.8 1545.3,967.6 1546.5,967.5 1547.6,969.0 1548.8,968.8 1550.0,969.2 1551.2,971.4 1552.4,970.2 1553.6,967.0 1554.8,965.2 1556.0,964.9 1557.1,966.6 1558.3,968.3 1559.5,968.0 1560.7,966.6 1561.9,966.5 1563.1,967.5 1564.3,966.9 1565.5,969.0 1566.6,968.6 1567.8,963.8 1569.0,966.0 1570.2,967.3 1571.4,966.2 1572.6,967.8 1573.8,966.5 1575.0,964.8 1576.1,965.8 1577.3,964.4 1578.5,963.5 1579.7,967.7 1580.9,966.4 1582.1,964.1 1583.3,964.0 1584.5,965.2 1585.6,968.2 1586.8,967.5 1588.0,966.0 1589.2,964.6 1590.4,965.8 1591.6,962.5 1592.8,962.7 1594.0,967.3 1595.1,963.7 1596.3,960.9 1597.5,961.5 1598.7,963.2 1599.9,964.8 1601.1,962.6 1602.3,964.2 1603.5,967.5 1604.6,966.0 1605.8,965.0 1607.0,963.7 1608.2,963.8 1609.4,964.7 1610.6,964.2 1611.8,964.9 1613.0,965.1 1614.1,966.1 1615.3,967.4 1616.5,966.0 1617.7,965.3 1618.9,964.5 1620.1,964.0 1621.3,964.4 1622.5,963.3 1623.6,965.6 1624.8,968.0 1626.0,966.3 1627.2,962.8 1628.4,962.9 1629.6,962.9 1630.8,961.1 1632.0,963.1 1633.1,963.7 1634.3,963.1 1635.5,964.1 1636.7,963.0 1637.9,961.9 1639.1,963.6 1640.3,964.8 1641.5,964.1 1642.6,962.6 1643.8,962.3 1645.0,960.2 1646.2,960.4 1647.4,963.8 1648.6,965.3 1649.8,966.0 1651.0,966.3 1652.1,966.3 1653.3,964.0 1654.5,965.0 1655.7,964.4 1656.9,962.5 1658.1,965.8 1659.3,966.0 1660.5,964.4 1661.6,963.3 1662.8,963.8 1664.0,962.6 1665.2,963.5 1666.4,965.8 1667.6,963.4 1668.8,963.7 1670.0,965.5 1671.1,963.3 1672.3,961.6 1673.5,961.5 1674.7,961.4 1675.9,962.0 1677.1,962.5 1678.3,962.3 1679.5,962.5 1680.6,961.5 1681.8,961.4 1683.0,961.4 1684.2,961.4 1685.4,961.3 1686.6,964.0 1687.8,962.7 1689.0,960.9 1690.1,963.6 1691.3,963.1 1692.5,960.4 1693.7,961.5 1694.9,964.1 1696.1,962.7 1697.3,959.4 1698.5,957.4 1699.6,961.2 1700.8,963.1 1702.0,961.9 1703.2,962.4 1704.4,960.9 1705.6,959.5 1706.8,963.1 1708.0,963.4 1709.1,961.4 1710.3,962.0 1711.5,961.6 1712.7,960.1 1713.9,960.7 1715.1,962.2 1716.3,961.4 1717.5,962.7 1718.6,961.9 1719.8,961.4 1721.0,962.3 1722.2,960.9 1723.4,960.4 1724.6,960.8 1725.8,960.9 1727.0,962.1 1728.1,960.8 1729.3,958.2 1730.5,958.6 1731.7,959.8 1732.9,960.6 1734.1,960.4 1735.3,960.6 1736.5,961.3 1737.6,961.3 1738.8,963.0 1740.0,961.5 1741.2,959.8 1742.4,960.0 1743.6,956.7 1744.8,956.8 1746.0,959.7 1747.1,960.0 1748.3,957.6 1749.5,956.9 1750.7,957.1 1751.9,957.7 1753.1,958.3 1754.3,958.3 1755.5,957.4 1756.6,956.6 1757.8,956.5 1759.0,955.9 1760.2,954.4 1761.4,953.2 1762.6,950.3 1763.8,947.2 1765.0,944.0 1766.1,941.5 1767.3,939.9 1768.5,935.1 1769.7,929.0 1770.9,922.8 1772.1,915.8 1773.3,912.5 1774.5,908.0 1775.6,902.8 1776.8,900.5 1778.0,896.6 1779.2,894.8 1780.4,894.2 1781.6,897.2 1782.8,901.4 1784.0,905.4 1785.1,912.6 1786.3,917.9 1787.5,923.9 1788.7,929.7 1789.9,931.9 1791.1,936.1 1792.3,942.2 1793.5,947.1 1794.6,950.0 1795.8,952.1 1797.0,951.3 1798.2,950.9 1799.4,953.8 1800.6,955.0 1801.8,953.5 1803.0,954.7 1804.1,957.7 1805.3,955.9 1806.5,954.9 1807.7,958.1 1808.9,958.3 1810.1,957.3 1811.3,958.4 1812.5,958.9 1813.6,959.2 1814.8,958.7 1816.0,957.2 1817.2,958.5 1818.4,959.0 1819.6,959.7 1820.8,960.5 1822.0,957.6 1823.1,957.3 1824.3,958.9 1825.5,957.1 1826.7,956.0 1827.9,957.4 1829.1,957.3 1830.3,959.2 1831.5,960.2 1832.6,956.5 1833.8,955.3 1835.0,955.4 1836.2,957.4 1837.4,959.8 1838.6,957.7 1839.8,956.2 1841.0,959.5 1842.1,960.6 1843.3,958.5 1844.5,959.4 1845.7,958.7 1846.9,959.1 1848.1,959.3 1849.3,957.6 1850.5,958.9 1851.6,959.7 1852.8,962.0 1854.0,961.6 1855.2,958.9 1856.4,961.7 1857.6,963.8 1858.8,962.0 1860.0,957.6 1861.1,957.4 1862.3,961.3 1863.5,962.0 1864.7,963.2 1865.9,963.7 1867.1,962.3 1868.3,961.5 1869.5,959.3 1870.6,959.8 1871.8,959.0 1873.0,958.7 1874.2,960.8 1875.4,961.0 1876.6,962.6 1877.8,963.3 1879.0,962.6 1880.1,960.1 1881.3,959.8 1882.5,963.3 1883.7,962.8 1884.9,960.7 1886.1,962.4 1887.3,962.3 1888.5,960.8 1889.6,962.9 1890.8,962.1 1892.0,962.2 1893.2,964.3 1894.4,961.9 1895.6,962.8 1896.8,966.6 1898.0,965.6 1899.1,962.3 1900.3,961.6 1901.5,962.3 1902.7,963.9 1903.9,962.1 1905.1,959.5 1906.3,960.6 1907.5,961.1 1908.6,963.4 1909.8,963.2 1911.0,959.5 1912.2,959.3 1913.4,959.9 1914.6,960.5 1915.8,961.4 1917.0,964.3 1918.1,965.1 1919.3,962.3 1920.5,962.8 1921.7,964.8 1922.9,964.2 1924.1,963.5 1925.3,961.6 1926.5,960.9 1927.6,962.5 1928.8,960.5 1930.0,961.6 1931.2,962.8 1932.4,959.7 1933.6,961.1 1934.8,963.4 1936.0,961.2 1937.1,959.6 1938.3,961.5 1939.5,963.2 1940.7,963.1 1941.9,963.5 1943.1,962.0 1944.3,961.4 1945.5,963.1 1946.6,963.6 1947.8,961.7 1949.0,964.1 1950.2,965.6 1951.4,962.0 1952.6,962.4 1953.8,963.8 1955.0,962.4 1956.1,961.0 1957.3,959.3 1958.5,960.3 1959.7,962.1 1960.9,962.6 1962.1,961.6 1963.3,959.2 1964.5,959.9 1965.6,959.9 1966.8,959.7 1968.0,960.4 1969.2,961.3 1970.4,960.7 1971.6,960.1 1972.8,961.5 1974.0,962.2 1975.1,961.6 1976.3,959.8 1977.5,959.9 1978.7,961.8 1979.9,963.4 1981.1,962.3 1982.3,960.5 1983.5,961.2 1984.6,961.3 1985.8,960.9 1987.0,963.0 1988.2,964.7 1989.4,963.1 1990.6,961.1 1991.8,960.3 1993.0,960.2 1994.1,960.3 1995.3,960.6 1996.5,961.8 1997.7,963.2 1998.9,962.6 2000.1,962.3 2001.3,961.3 2002.5,960.9 2003.6,961.7 2004.8,961.8 2006.0,960.2 2007.2,960.6 2008.4,961.5 2009.6,961.6 2010.8,962.0 2012.0,960.9 2013.1,961.6 2014.3,963.2 2015.5,962.5 2016.7,961.1" fill="none" stroke="#9f3c55" stroke-width="4.2" stroke-linejoin="round" stroke-linecap="butt"/>
<polyline points="1542.9,1008.7 1544.1,1012.7 1545.3,1014.0 1546.5,1011.5 1547.6,1011.7 1548.8,1011.8 1550.0,1010.4 1551.2,1010.8 1552.4,1010.2 1553.6,1009.4 1554.8,1009.9 1556.0,1010.9 1557.1,1011.3 1558.3,1013.5 1559.5,1011.2 1560.7,1010.4 1561.9,1011.1 1563.1,1008.6 1564.3,1008.7 1565.5,1010.6 1566.6,1009.2 1567.8,1009.5 1569.0,1010.1 1570.2,1007.5 1571.4,1009.9 1572.6,1010.4 1573.8,1009.9 1575.0,1010.0 1576.1,1011.1 1577.3,1009.7 1578.5,1006.7 1579.7,1008.5 1580.9,1009.6 1582.1,1008.0 1583.3,1007.0 1584.5,1008.1 1585.6,1009.0 1586.8,1009.8 1588.0,1009.4 1589.2,1009.9 1590.4,1009.5 1591.6,1006.6 1592.8,1006.2 1594.0,1007.2 1595.1,1007.2 1596.3,1005.5 1597.5,1006.5 1598.7,1011.0 1599.9,1013.6 1601.1,1012.1 1602.3,1008.5 1603.5,1006.8 1604.6,1008.6 1605.8,1010.3 1607.0,1007.1 1608.2,1008.2 1609.4,1010.8 1610.6,1009.4 1611.8,1009.5 1613.0,1009.2 1614.1,1010.1 1615.3,1010.8 1616.5,1009.4 1617.7,1007.6 1618.9,1006.3 1620.1,1006.8 1621.3,1008.5 1622.5,1007.7 1623.6,1006.7 1624.8,1006.7 1626.0,1008.2 1627.2,1010.8 1628.4,1009.8 1629.6,1007.0 1630.8,1007.4 1632.0,1009.0 1633.1,1008.3 1634.3,1007.2 1635.5,1006.8 1636.7,1005.9 1637.9,1006.8 1639.1,1006.2 1640.3,1005.1 1641.5,1008.7 1642.6,1007.9 1643.8,1006.6 1645.0,1008.3 1646.2,1006.8 1647.4,1006.3 1648.6,1009.0 1649.8,1008.1 1651.0,1005.9 1652.1,1005.4 1653.3,1007.9 1654.5,1006.9 1655.7,1004.9 1656.9,1006.0 1658.1,1007.4 1659.3,1009.0 1660.5,1008.4 1661.6,1007.4 1662.8,1004.3 1664.0,1004.1 1665.2,1006.3 1666.4,1004.9 1667.6,1003.3 1668.8,1003.8 1670.0,1005.9 1671.1,1008.7 1672.3,1010.7 1673.5,1009.2 1674.7,1007.5 1675.9,1006.1 1677.1,1003.2 1678.3,1004.5 1679.5,1006.9 1680.6,1006.3 1681.8,1008.1 1683.0,1008.0 1684.2,1004.8 1685.4,1001.7 1686.6,1004.2 1687.8,1006.2 1689.0,1002.8 1690.1,1004.9 1691.3,1006.8 1692.5,1004.0 1693.7,1004.4 1694.9,1006.2 1696.1,1005.1 1697.3,1003.3 1698.5,1003.1 1699.6,1005.0 1700.8,1004.6 1702.0,1005.1 1703.2,1007.3 1704.4,1006.6 1705.6,1005.3 1706.8,1004.8 1708.0,1004.3 1709.1,1005.0 1710.3,1007.3 1711.5,1008.7 1712.7,1006.9 1713.9,1004.0 1715.1,1004.6 1716.3,1006.0 1717.5,1004.3 1718.6,1005.0 1719.8,1004.9 1721.0,1003.9 1722.2,1005.3 1723.4,1004.0 1724.6,1004.0 1725.8,1003.6 1727.0,1004.0 1728.1,1006.0 1729.3,1005.2 1730.5,1003.4 1731.7,1003.9 1732.9,1004.3 1734.1,1002.7 1735.3,1001.7 1736.5,1002.7 1737.6,1003.4 1738.8,1001.7 1740.0,999.9 1741.2,1000.8 1742.4,1002.3 1743.6,1002.0 1744.8,1006.1 1746.0,1006.1 1747.1,1002.4 1748.3,1003.7 1749.5,1004.4 1750.7,1003.1 1751.9,1001.8 1753.1,1001.4 1754.3,1001.7 1755.5,1001.1 1756.6,999.0 1757.8,998.4 1759.0,997.0 1760.2,993.8 1761.4,992.4 1762.6,992.5 1763.8,991.3 1765.0,990.5 1766.1,986.8 1767.3,979.8 1768.5,975.3 1769.7,971.8 1770.9,963.7 1772.1,953.4 1773.3,948.2 1774.5,942.4 1775.6,937.3 1776.8,936.4 1778.0,933.5 1779.2,931.2 1780.4,932.7 1781.6,935.4 1782.8,940.9 1784.0,948.1 1785.1,952.0 1786.3,956.5 1787.5,963.5 1788.7,971.0 1789.9,980.0 1791.1,985.3 1792.3,985.3 1793.5,986.6 1794.6,993.3 1795.8,997.1 1797.0,998.1 1798.2,998.7 1799.4,996.4 1800.6,998.0 1801.8,1000.2 1803.0,1000.2 1804.1,1001.5 1805.3,1002.8 1806.5,1003.2 1807.7,1001.6 1808.9,1000.5 1810.1,1000.5 1811.3,1002.0 1812.5,1003.7 1813.6,1002.7 1814.8,1002.2 1816.0,1003.5 1817.2,1003.9 1818.4,1001.2 1819.6,1000.8 1820.8,1002.1 1822.0,1000.9 1823.1,1001.6 1824.3,1000.7 1825.5,1000.2 1826.7,1001.3 1827.9,1002.1 1829.1,1002.2 1830.3,1001.8 1831.5,1001.9 1832.6,1002.5 1833.8,1003.9 1835.0,1003.3 1836.2,1001.9 1837.4,1003.2 1838.6,1004.0 1839.8,1002.6 1841.0,1001.5 1842.1,1004.0 1843.3,1006.9 1844.5,1003.5 1845.7,1001.5 1846.9,1001.9 1848.1,1002.3 1849.3,1002.5 1850.5,1002.1 1851.6,1001.5 1852.8,1003.5 1854.0,1005.5 1855.2,1003.0 1856.4,1000.9 1857.6,1003.3 1858.8,1002.7 1860.0,1001.1 1861.1,1002.1 1862.3,1003.0 1863.5,1005.1 1864.7,1004.9 1865.9,1004.1 1867.1,1005.5 1868.3,1005.4 1869.5,1004.2 1870.6,1006.2 1871.8,1007.2 1873.0,1005.6 1874.2,1005.6 1875.4,1004.8 1876.6,1002.7 1877.8,1004.7 1879.0,1005.8 1880.1,1004.2 1881.3,1003.6 1882.5,1005.7 1883.7,1007.9 1884.9,1005.8 1886.1,1003.5 1887.3,1003.6 1888.5,1005.8 1889.6,1005.7 1890.8,1005.6 1892.0,1007.7 1893.2,1006.8 1894.4,1004.2 1895.6,1003.3 1896.8,1004.1 1898.0,1006.0 1899.1,1007.6 1900.3,1006.1 1901.5,1005.9 1902.7,1006.4 1903.9,1004.9 1905.1,1006.0 1906.3,1006.6 1907.5,1005.9 1908.6,1005.0 1909.8,1005.6 1911.0,1006.6 1912.2,1005.6 1913.4,1006.8 1914.6,1007.6 1915.8,1006.8 1917.0,1006.2 1918.1,1006.8 1919.3,1007.1 1920.5,1005.5 1921.7,1004.0 1922.9,1004.2 1924.1,1004.1 1925.3,1003.7 1926.5,1004.6 1927.6,1005.8 1928.8,1007.2 1930.0,1005.9 1931.2,1006.0 1932.4,1004.8 1933.6,1003.9 1934.8,1002.8 1936.0,1003.6 1937.1,1005.8 1938.3,1004.6 1939.5,1005.1 1940.7,1005.2 1941.9,1007.7 1943.1,1008.0 1944.3,1004.6 1945.5,1004.8 1946.6,1007.3 1947.8,1007.7 1949.0,1006.2 1950.2,1004.9 1951.4,1005.6 1952.6,1005.4 1953.8,1005.5 1955.0,1005.6 1956.1,1004.6 1957.3,1003.1 1958.5,1002.7 1959.7,1003.8 1960.9,1004.9 1962.1,1008.4 1963.3,1008.0 1964.5,1005.8 1965.6,1006.6 1966.8,1006.7 1968.0,1008.0 1969.2,1008.3 1970.4,1006.9 1971.6,1005.1 1972.8,1004.4 1974.0,1005.9 1975.1,1005.9 1976.3,1008.1 1977.5,1009.2 1978.7,1005.8 1979.9,1004.1 1981.1,1006.9 1982.3,1007.3 1983.5,1006.3 1984.6,1006.1 1985.8,1005.6 1987.0,1006.1 1988.2,1007.7 1989.4,1008.0 1990.6,1007.5 1991.8,1007.4 1993.0,1005.5 1994.1,1004.8 1995.3,1005.2 1996.5,1004.8 1997.7,1006.6 1998.9,1007.7 2000.1,1005.4 2001.3,1003.8 2002.5,1007.3 2003.6,1009.7 2004.8,1006.9 2006.0,1002.5 2007.2,1003.7 2008.4,1007.2 2009.6,1006.2 2010.8,1005.1 2012.0,1006.8 2013.1,1008.4 2014.3,1007.5 2015.5,1007.5 2016.7,1007.6" fill="none" stroke="#bf2839" stroke-width="4.2" stroke-linejoin="round" stroke-linecap="butt"/>
<polyline points="1542.9,1057.0 1544.1,1058.0 1545.3,1059.2 1546.5,1059.7 1547.6,1057.1 1548.8,1054.5 1550.0,1055.0 1551.2,1055.9 1552.4,1056.4 1553.6,1056.2 1554.8,1056.7 1556.0,1058.1 1557.1,1059.1 1558.3,1057.9 1559.5,1057.4 1560.7,1059.5 1561.9,1058.9 1563.1,1057.8 1564.3,1056.4 1565.5,1053.9 1566.6,1054.0 1567.8,1054.6 1569.0,1053.0 1570.2,1055.3 1571.4,1058.7 1572.6,1057.2 1573.8,1056.2 1575.0,1055.9 1576.1,1054.2 1577.3,1054.5 1578.5,1057.6 1579.7,1054.5 1580.9,1053.7 1582.1,1058.0 1583.3,1055.6 1584.5,1056.0 1585.6,1058.5 1586.8,1056.6 1588.0,1056.1 1589.2,1055.9 1590.4,1053.8 1591.6,1053.8 1592.8,1055.4 1594.0,1054.9 1595.1,1054.1 1596.3,1051.5 1597.5,1052.8 1598.7,1054.5 1599.9,1053.7 1601.1,1054.6 1602.3,1056.4 1603.5,1058.1 1604.6,1057.2 1605.8,1057.8 1607.0,1057.2 1608.2,1053.6 1609.4,1054.7 1610.6,1054.8 1611.8,1053.1 1613.0,1054.6 1614.1,1056.0 1615.3,1055.7 1616.5,1052.6 1617.7,1053.4 1618.9,1054.8 1620.1,1054.2 1621.3,1054.7 1622.5,1055.7 1623.6,1053.9 1624.8,1051.9 1626.0,1053.9 1627.2,1053.4 1628.4,1053.6 1629.6,1054.7 1630.8,1055.5 1632.0,1057.6 1633.1,1056.4 1634.3,1052.3 1635.5,1051.6 1636.7,1052.2 1637.9,1050.4 1639.1,1051.1 1640.3,1053.9 1641.5,1054.1 1642.6,1053.7 1643.8,1053.2 1645.0,1053.2 1646.2,1052.2 1647.4,1050.3 1648.6,1051.5 1649.8,1052.6 1651.0,1052.2 1652.1,1052.3 1653.3,1052.6 1654.5,1051.5 1655.7,1052.3 1656.9,1053.8 1658.1,1053.2 1659.3,1055.2 1660.5,1053.4 1661.6,1051.3 1662.8,1051.1 1664.0,1052.9 1665.2,1056.8 1666.4,1054.9 1667.6,1052.5 1668.8,1051.0 1670.0,1050.1 1671.1,1049.7 1672.3,1050.4 1673.5,1049.1 1674.7,1048.2 1675.9,1052.8 1677.1,1054.6 1678.3,1053.5 1679.5,1052.7 1680.6,1052.5 1681.8,1052.1 1683.0,1049.9 1684.2,1051.8 1685.4,1053.8 1686.6,1050.1 1687.8,1047.5 1689.0,1047.3 1690.1,1048.9 1691.3,1049.5 1692.5,1049.2 1693.7,1052.4 1694.9,1053.6 1696.1,1050.9 1697.3,1050.0 1698.5,1051.8 1699.6,1052.9 1700.8,1051.4 1702.0,1050.0 1703.2,1051.0 1704.4,1049.5 1705.6,1049.4 1706.8,1051.6 1708.0,1050.9 1709.1,1050.4 1710.3,1050.6 1711.5,1052.6 1712.7,1049.8 1713.9,1046.8 1715.1,1049.0 1716.3,1050.3 1717.5,1050.7 1718.6,1049.5 1719.8,1050.0 1721.0,1049.5 1722.2,1048.0 1723.4,1049.2 1724.6,1050.7 1725.8,1049.4 1727.0,1046.0 1728.1,1046.4 1729.3,1047.8 1730.5,1048.1 1731.7,1050.0 1732.9,1048.5 1734.1,1047.9 1735.3,1046.6 1736.5,1046.9 1737.6,1050.9 1738.8,1049.7 1740.0,1047.0 1741.2,1046.3 1742.4,1046.9 1743.6,1049.1 1744.8,1047.8 1746.0,1047.4 1747.1,1046.0 1748.3,1045.3 1749.5,1047.7 1750.7,1047.1 1751.9,1045.1 1753.1,1042.3 1754.3,1042.8 1755.5,1043.8 1756.6,1044.7 1757.8,1043.2 1759.0,1043.5 1760.2,1041.7 1761.4,1036.6 1762.6,1036.1 1763.8,1032.5 1765.0,1026.6 1766.1,1020.6 1767.3,1013.9 1768.5,1009.3 1769.7,1003.3 1770.9,997.1 1772.1,988.6 1773.3,980.5 1774.5,974.4 1775.6,967.9 1776.8,962.8 1778.0,957.5 1779.2,957.0 1780.4,959.1 1781.6,963.4 1782.8,968.7 1784.0,973.3 1785.1,981.6 1786.3,990.7 1787.5,999.9 1788.7,1006.7 1789.9,1011.4 1791.1,1018.6 1792.3,1025.3 1793.5,1030.1 1794.6,1035.2 1795.8,1037.8 1797.0,1040.5 1798.2,1041.0 1799.4,1038.8 1800.6,1040.1 1801.8,1042.5 1803.0,1044.3 1804.1,1045.0 1805.3,1046.6 1806.5,1046.8 1807.7,1045.6 1808.9,1045.3 1810.1,1043.7 1811.3,1044.2 1812.5,1044.4 1813.6,1043.9 1814.8,1046.5 1816.0,1046.8 1817.2,1046.0 1818.4,1046.2 1819.6,1045.7 1820.8,1046.0 1822.0,1046.8 1823.1,1046.6 1824.3,1046.7 1825.5,1048.2 1826.7,1047.9 1827.9,1048.9 1829.1,1048.3 1830.3,1045.8 1831.5,1046.6 1832.6,1046.1 1833.8,1045.0 1835.0,1046.3 1836.2,1046.6 1837.4,1045.9 1838.6,1047.1 1839.8,1047.5 1841.0,1046.3 1842.1,1046.3 1843.3,1047.5 1844.5,1046.8 1845.7,1048.7 1846.9,1050.5 1848.1,1048.2 1849.3,1046.2 1850.5,1047.9 1851.6,1050.8 1852.8,1050.5 1854.0,1049.6 1855.2,1049.3 1856.4,1050.2 1857.6,1048.4 1858.8,1046.8 1860.0,1047.8 1861.1,1049.1 1862.3,1049.4 1863.5,1048.9 1864.7,1046.3 1865.9,1047.3 1867.1,1050.1 1868.3,1049.5 1869.5,1049.2 1870.6,1047.9 1871.8,1049.2 1873.0,1051.1 1874.2,1048.4 1875.4,1047.0 1876.6,1046.6 1877.8,1047.7 1879.0,1050.9 1880.1,1050.9 1881.3,1050.0 1882.5,1048.6 1883.7,1048.8 1884.9,1049.4 1886.1,1047.7 1887.3,1047.7 1888.5,1048.8 1889.6,1049.3 1890.8,1048.7 1892.0,1047.6 1893.2,1049.0 1894.4,1051.3 1895.6,1048.5 1896.8,1048.6 1898.0,1050.7 1899.1,1050.0 1900.3,1048.3 1901.5,1047.1 1902.7,1047.0 1903.9,1045.9 1905.1,1048.1 1906.3,1049.2 1907.5,1050.3 1908.6,1051.1 1909.8,1048.5 1911.0,1047.4 1912.2,1047.8 1913.4,1048.2 1914.6,1049.2 1915.8,1048.5 1917.0,1047.8 1918.1,1048.6 1919.3,1047.6 1920.5,1048.1 1921.7,1047.2 1922.9,1046.9 1924.1,1047.1 1925.3,1046.7 1926.5,1049.0 1927.6,1049.4 1928.8,1048.2 1930.0,1047.4 1931.2,1047.5 1932.4,1047.7 1933.6,1048.7 1934.8,1049.6 1936.0,1050.2 1937.1,1049.8 1938.3,1051.1 1939.5,1050.6 1940.7,1048.5 1941.9,1048.9 1943.1,1049.9 1944.3,1049.8 1945.5,1048.1 1946.6,1049.2 1947.8,1051.1 1949.0,1050.3 1950.2,1049.0 1951.4,1049.9 1952.6,1049.4 1953.8,1050.3 1955.0,1049.2 1956.1,1048.6 1957.3,1051.6 1958.5,1050.7 1959.7,1051.0 1960.9,1050.6 1962.1,1049.9 1963.3,1048.1 1964.5,1047.3 1965.6,1047.9 1966.8,1047.8 1968.0,1047.5 1969.2,1047.1 1970.4,1049.9 1971.6,1050.8 1972.8,1048.9 1974.0,1048.0 1975.1,1050.6 1976.3,1052.1 1977.5,1051.7 1978.7,1052.3 1979.9,1050.5 1981.1,1048.7 1982.3,1051.3 1983.5,1052.8 1984.6,1049.2 1985.8,1046.6 1987.0,1046.8 1988.2,1049.3 1989.4,1050.1 1990.6,1047.6 1991.8,1047.9 1993.0,1049.5 1994.1,1050.1 1995.3,1049.3 1996.5,1047.6 1997.7,1046.1 1998.9,1047.2 2000.1,1049.0 2001.3,1050.5 2002.5,1049.4 2003.6,1048.5 2004.8,1048.2 2006.0,1048.3 2007.2,1049.9 2008.4,1048.4 2009.6,1048.0 2010.8,1051.3 2012.0,1051.8 2013.1,1049.1 2014.3,1046.1 2015.5,1044.8 2016.7,1045.7" fill="none" stroke="#df141c" stroke-width="4.2" stroke-linejoin="round" stroke-linecap="butt"/>
<polyline points="1542.9,1108.3 1544.1,1106.2 1545.3,1106.0 1546.5,1106.5 1547.6,1106.0 1548.8,1104.2 1550.0,1107.0 1551.2,1110.2 1552.4,1106.9 1553.6,1105.6 1554.8,1103.3 1556.0,1101.8 1557.1,1103.9 1558.3,1105.6 1559.5,1105.6 1560.7,1105.1 1561.9,1106.9 1563.1,1107.8 1564.3,1105.3 1565.5,1103.7 1566.6,1104.2 1567.8,1102.6 1569.0,1103.7 1570.2,1106.0 1571.4,1103.9 1572.6,1102.1 1573.8,1103.8 1575.0,1104.7 1576.1,1104.2 1577.3,1105.7 1578.5,1105.1 1579.7,1104.7 1580.9,1103.7 1582.1,1102.3 1583.3,1103.6 1584.5,1102.6 1585.6,1100.6 1586.8,1102.7 1588.0,1106.2 1589.2,1106.2 1590.4,1104.1 1591.6,1106.0 1592.8,1108.6 1594.0,1104.4 1595.1,1101.9 1596.3,1102.6 1597.5,1102.5 1598.7,1103.6 1599.9,1103.2 1601.1,1102.8 1602.3,1101.9 1603.5,1101.6 1604.6,1102.5 1605.8,1102.6 1607.0,1104.2 1608.2,1104.7 1609.4,1102.5 1610.6,1102.7 1611.8,1103.4 1613.0,1102.9 1614.1,1103.3 1615.3,1101.0 1616.5,1102.0 1617.7,1104.7 1618.9,1104.3 1620.1,1101.6 1621.3,1099.9 1622.5,1103.1 1623.6,1104.7 1624.8,1103.1 1626.0,1102.5 1627.2,1102.9 1628.4,1101.3 1629.6,1101.6 1630.8,1102.1 1632.0,1101.0 1633.1,1101.5 1634.3,1103.6 1635.5,1104.4 1636.7,1100.7 1637.9,1099.0 1639.1,1102.2 1640.3,1102.4 1641.5,1102.5 1642.6,1101.8 1643.8,1100.6 1645.0,1099.5 1646.2,1097.2 1647.4,1098.1 1648.6,1100.8 1649.8,1101.6 1651.0,1101.4 1652.1,1102.0 1653.3,1101.7 1654.5,1101.3 1655.7,1099.5 1656.9,1098.4 1658.1,1101.5 1659.3,1103.5 1660.5,1102.4 1661.6,1099.9 1662.8,1099.7 1664.0,1100.1 1665.2,1098.7 1666.4,1098.3 1667.6,1098.8 1668.8,1100.2 1670.0,1098.8 1671.1,1096.9 1672.3,1097.9 1673.5,1099.6 1674.7,1099.9 1675.9,1099.7 1677.1,1097.9 1678.3,1098.5 1679.5,1098.1 1680.6,1098.6 1681.8,1099.8 1683.0,1099.2 1684.2,1098.9 1685.4,1095.1 1686.6,1096.2 1687.8,1097.5 1689.0,1098.2 1690.1,1099.0 1691.3,1094.5 1692.5,1094.6 1693.7,1099.2 1694.9,1100.1 1696.1,1098.0 1697.3,1098.6 1698.5,1096.8 1699.6,1094.6 1700.8,1097.2 1702.0,1097.2 1703.2,1095.9 1704.4,1098.6 1705.6,1096.9 1706.8,1093.6 1708.0,1097.8 1709.1,1097.5 1710.3,1095.2 1711.5,1095.7 1712.7,1095.7 1713.9,1098.0 1715.1,1097.7 1716.3,1094.4 1717.5,1096.6 1718.6,1098.4 1719.8,1097.0 1721.0,1096.1 1722.2,1096.8 1723.4,1096.8 1724.6,1095.5 1725.8,1095.2 1727.0,1094.8 1728.1,1096.6 1729.3,1096.5 1730.5,1094.7 1731.7,1094.3 1732.9,1092.8 1734.1,1093.2 1735.3,1094.5 1736.5,1092.9 1737.6,1091.3 1738.8,1092.7 1740.0,1094.9 1741.2,1094.3 1742.4,1094.8 1743.6,1095.8 1744.8,1093.5 1746.0,1091.2 1747.1,1090.6 1748.3,1089.4 1749.5,1091.3 1750.7,1092.8 1751.9,1092.5 1753.1,1092.0 1754.3,1089.0 1755.5,1089.6 1756.6,1088.8 1757.8,1086.9 1759.0,1086.3 1760.2,1081.0 1761.4,1077.7 1762.6,1078.5 1763.8,1075.8 1765.0,1067.7 1766.1,1063.5 1767.3,1059.6 1768.5,1050.0 1769.7,1041.1 1770.9,1033.2 1772.1,1021.9 1773.3,1009.2 1774.5,999.4 1775.6,991.3 1776.8,984.9 1778.0,982.0 1779.2,980.4 1780.4,983.4 1781.6,989.3 1782.8,995.9 1784.0,1004.7 1785.1,1015.2 1786.3,1025.1 1787.5,1034.1 1788.7,1041.8 1789.9,1050.8 1791.1,1058.6 1792.3,1065.0 1793.5,1069.4 1794.6,1074.5 1795.8,1083.8 1797.0,1084.8 1798.2,1082.9 1799.4,1084.9 1800.6,1084.9 1801.8,1085.1 1803.0,1088.2 1804.1,1091.1 1805.3,1090.8 1806.5,1090.9 1807.7,1092.0 1808.9,1092.0 1810.1,1090.4 1811.3,1088.7 1812.5,1089.8 1813.6,1090.0 1814.8,1091.1 1816.0,1092.5 1817.2,1090.9 1818.4,1091.6 1819.6,1090.8 1820.8,1090.3 1822.0,1091.9 1823.1,1090.8 1824.3,1092.6 1825.5,1093.1 1826.7,1091.9 1827.9,1094.4 1829.1,1094.3 1830.3,1091.6 1831.5,1093.7 1832.6,1094.1 1833.8,1094.1 1835.0,1095.3 1836.2,1093.1 1837.4,1090.4 1838.6,1089.9 1839.8,1091.5 1841.0,1091.0 1842.1,1090.2 1843.3,1090.9 1844.5,1091.6 1845.7,1091.1 1846.9,1091.7 1848.1,1090.9 1849.3,1089.9 1850.5,1090.0 1851.6,1089.4 1852.8,1091.3 1854.0,1092.8 1855.2,1091.5 1856.4,1091.5 1857.6,1092.1 1858.8,1092.0 1860.0,1091.8 1861.1,1090.5 1862.3,1092.7 1863.5,1092.9 1864.7,1091.7 1865.9,1090.4 1867.1,1088.7 1868.3,1089.5 1869.5,1089.1 1870.6,1090.0 1871.8,1091.3 1873.0,1091.3 1874.2,1089.3 1875.4,1090.0 1876.6,1091.7 1877.8,1091.5 1879.0,1090.8 1880.1,1090.6 1881.3,1089.7 1882.5,1090.7 1883.7,1092.9 1884.9,1090.7 1886.1,1088.4 1887.3,1088.4 1888.5,1087.4 1889.6,1086.8 1890.8,1089.7 1892.0,1092.1 1893.2,1091.7 1894.4,1091.0 1895.6,1090.2 1896.8,1090.1 1898.0,1090.9 1899.1,1090.6 1900.3,1089.9 1901.5,1088.9 1902.7,1088.6 1903.9,1087.9 1905.1,1087.7 1906.3,1088.7 1907.5,1087.7 1908.6,1085.5 1909.8,1087.0 1911.0,1090.6 1912.2,1091.9 1913.4,1089.7 1914.6,1090.2 1915.8,1091.0 1917.0,1087.6 1918.1,1090.3 1919.3,1091.4 1920.5,1088.1 1921.7,1087.9 1922.9,1088.5 1924.1,1091.3 1925.3,1091.6 1926.5,1091.0 1927.6,1091.8 1928.8,1090.0 1930.0,1088.2 1931.2,1087.9 1932.4,1087.3 1933.6,1089.0 1934.8,1089.7 1936.0,1088.4 1937.1,1089.8 1938.3,1090.2 1939.5,1088.7 1940.7,1087.0 1941.9,1089.4 1943.1,1088.9 1944.3,1088.3 1945.5,1090.1 1946.6,1088.7 1947.8,1089.2 1949.0,1091.9 1950.2,1092.0 1951.4,1089.0 1952.6,1088.9 1953.8,1088.9 1955.0,1088.4 1956.1,1088.5 1957.3,1087.5 1958.5,1085.5 1959.7,1085.7 1960.9,1086.8 1962.1,1087.7 1963.3,1088.5 1964.5,1089.6 1965.6,1089.5 1966.8,1087.0 1968.0,1089.2 1969.2,1089.5 1970.4,1087.8 1971.6,1087.5 1972.8,1087.6 1974.0,1088.8 1975.1,1090.4 1976.3,1090.4 1977.5,1088.7 1978.7,1089.9 1979.9,1091.3 1981.1,1092.7 1982.3,1092.0 1983.5,1088.7 1984.6,1087.5 1985.8,1090.3 1987.0,1091.2 1988.2,1090.4 1989.4,1089.1 1990.6,1089.0 1991.8,1092.2 1993.0,1089.7 1994.1,1089.1 1995.3,1090.5 1996.5,1091.5 1997.7,1089.0 1998.9,1088.7 2000.1,1092.1 2001.3,1091.5 2002.5,1090.5 2003.6,1091.0 2004.8,1091.2 2006.0,1089.2 2007.2,1086.2 2008.4,1084.4 2009.6,1087.7 2010.8,1089.6 2012.0,1089.4 2013.1,1091.9 2014.3,1092.6 2015.5,1090.7 2016.7,1090.1" fill="none" stroke="#ff0000" stroke-width="4.2" stroke-linejoin="round" stroke-linecap="butt"/>
</g>
<rect x="1542.9" y="631.6" width="473.8" height="521" fill="none" stroke="#000" stroke-width="2.2"/>
<line x1="1542.9" y1="1152.6" x2="1542.9" y2="1159.6" stroke="#000" stroke-width="2.2"/>
<line x1="1621.87" y1="1152.6" x2="1621.87" y2="1156.6" stroke="#000" stroke-width="2.2"/>
<line x1="1700.83" y1="1152.6" x2="1700.83" y2="1159.6" stroke="#000" stroke-width="2.2"/>
<line x1="1779.8" y1="1152.6" x2="1779.8" y2="1156.6" stroke="#000" stroke-width="2.2"/>
<line x1="1858.77" y1="1152.6" x2="1858.77" y2="1159.6" stroke="#000" stroke-width="2.2"/>
<line x1="1937.73" y1="1152.6" x2="1937.73" y2="1156.6" stroke="#000" stroke-width="2.2"/>
<line x1="2016.7" y1="1152.6" x2="2016.7" y2="1159.6" stroke="#000" stroke-width="2.2"/>
<text transform="translate(1509.65 1187.6) scale(1 1.035)" font-size="29.4">1800</text>
<text transform="translate(1667.59 1187.6) scale(1 1.035)" font-size="29.4">1900</text>
<text transform="translate(1825.9 1187.6) scale(1 1.035)" font-size="29.4">2000</text>
<text transform="translate(1983.83 1187.6) scale(1 1.035)" font-size="29.4">2100</text>
<line x1="1958.3" y1="709.3" x2="1958.3" y2="1055.3" stroke="#000" stroke-width="2.2"/>
<polygon points="1958.3,689.3 1950.6,718.8 1966.0,718.8" fill="#000"/>
<text transform="translate(1906.46 687.2) scale(1 1.035)" font-size="31.52">-0.75 V</text>
<text transform="translate(1923.28 1080.5) scale(1 1.035)" font-size="31.0">-0.4 V</text>
<text transform="translate(1935.19 1127.4) scale(1 1.035)" font-size="30.96">OCP</text>
<text transform="translate(1506.5 982.72) rotate(-90)" font-size="32.16">Intensity (a.u.)</text>
<text transform="translate(1644.58 1228.1)" font-size="32.46"><tspan dy="-0" font-size="32.46">Raman shift (cm</tspan><tspan dy="-13.96" font-size="20.13">-1</tspan><tspan dy="13.96" font-size="32.46">)</tspan></text>
<text transform="translate(1461.94 656.8)" font-size="40" font-weight="bold">e</text>
</g>
</svg>
</body>
</html>
